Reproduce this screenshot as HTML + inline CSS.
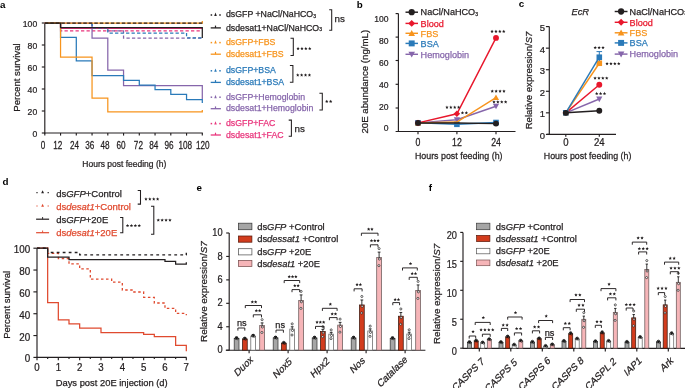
<!DOCTYPE html>
<html><head><meta charset="utf-8"><style>
html,body{margin:0;padding:0;background:#fff;}
body{width:685px;height:388px;overflow:hidden;}
svg{display:block;font-family:"Liberation Sans", sans-serif;will-change:transform;}
</style></head><body>
<svg width="685" height="388" viewBox="0 0 685 388" font-family='"Liberation Sans", sans-serif'>
<rect width="685" height="388" fill="#fff"/>
<text x="0.00" y="7.60" font-size="9.8" fill="#000" stroke="#000" stroke-width="0" text-anchor="start" font-weight="bold" font-style="normal" >a</text>
<line x1="44.80" y1="23.00" x2="44.80" y2="133.50" stroke="#231f20" stroke-width="1.15" />
<line x1="41.80" y1="23.00" x2="44.80" y2="23.00" stroke="#231f20" stroke-width="1.15" />
<text x="0" y="0" font-size="9.8" fill="#231f20" stroke="#231f20" stroke-width="0.25" text-anchor="end" font-weight="normal" font-style="normal" transform="translate(37.20 27.12) scale(0.88 1)" >100</text>
<line x1="41.80" y1="45.00" x2="44.80" y2="45.00" stroke="#231f20" stroke-width="1.15" />
<text x="0" y="0" font-size="9.8" fill="#231f20" stroke="#231f20" stroke-width="0.25" text-anchor="end" font-weight="normal" font-style="normal" transform="translate(37.20 49.12) scale(0.88 1)" >80</text>
<line x1="41.80" y1="67.00" x2="44.80" y2="67.00" stroke="#231f20" stroke-width="1.15" />
<text x="0" y="0" font-size="9.8" fill="#231f20" stroke="#231f20" stroke-width="0.25" text-anchor="end" font-weight="normal" font-style="normal" transform="translate(37.20 71.12) scale(0.88 1)" >60</text>
<line x1="41.80" y1="89.00" x2="44.80" y2="89.00" stroke="#231f20" stroke-width="1.15" />
<text x="0" y="0" font-size="9.8" fill="#231f20" stroke="#231f20" stroke-width="0.25" text-anchor="end" font-weight="normal" font-style="normal" transform="translate(37.20 93.12) scale(0.88 1)" >40</text>
<line x1="41.80" y1="111.00" x2="44.80" y2="111.00" stroke="#231f20" stroke-width="1.15" />
<text x="0" y="0" font-size="9.8" fill="#231f20" stroke="#231f20" stroke-width="0.25" text-anchor="end" font-weight="normal" font-style="normal" transform="translate(37.20 115.12) scale(0.88 1)" >20</text>
<line x1="41.80" y1="133.00" x2="44.80" y2="133.00" stroke="#231f20" stroke-width="1.15" />
<text x="0" y="0" font-size="9.8" fill="#231f20" stroke="#231f20" stroke-width="0.25" text-anchor="end" font-weight="normal" font-style="normal" transform="translate(37.20 137.12) scale(0.88 1)" >0</text>
<line x1="44.30" y1="133.00" x2="202.80" y2="133.00" stroke="#231f20" stroke-width="1.15" />
<line x1="44.80" y1="133.00" x2="44.80" y2="135.60" stroke="#231f20" stroke-width="1.15" />
<text x="0" y="0" font-size="10.0" fill="#231f20" stroke="#231f20" stroke-width="0.25" text-anchor="middle" font-weight="normal" font-style="normal" transform="translate(42.90 149.14) scale(0.82 1)" >0</text>
<line x1="60.55" y1="133.00" x2="60.55" y2="135.60" stroke="#231f20" stroke-width="1.15" />
<text x="0" y="0" font-size="10.0" fill="#231f20" stroke="#231f20" stroke-width="0.25" text-anchor="middle" font-weight="normal" font-style="normal" transform="translate(57.80 149.14) scale(0.82 1)" >12</text>
<line x1="76.30" y1="133.00" x2="76.30" y2="135.60" stroke="#231f20" stroke-width="1.15" />
<text x="0" y="0" font-size="10.0" fill="#231f20" stroke="#231f20" stroke-width="0.25" text-anchor="middle" font-weight="normal" font-style="normal" transform="translate(74.50 149.14) scale(0.82 1)" >24</text>
<line x1="92.05" y1="133.00" x2="92.05" y2="135.60" stroke="#231f20" stroke-width="1.15" />
<text x="0" y="0" font-size="10.0" fill="#231f20" stroke="#231f20" stroke-width="0.25" text-anchor="middle" font-weight="normal" font-style="normal" transform="translate(89.70 149.14) scale(0.82 1)" >36</text>
<line x1="107.80" y1="133.00" x2="107.80" y2="135.60" stroke="#231f20" stroke-width="1.15" />
<text x="0" y="0" font-size="10.0" fill="#231f20" stroke="#231f20" stroke-width="0.25" text-anchor="middle" font-weight="normal" font-style="normal" transform="translate(105.10 149.14) scale(0.82 1)" >48</text>
<line x1="123.55" y1="133.00" x2="123.55" y2="135.60" stroke="#231f20" stroke-width="1.15" />
<text x="0" y="0" font-size="10.0" fill="#231f20" stroke="#231f20" stroke-width="0.25" text-anchor="middle" font-weight="normal" font-style="normal" transform="translate(121.00 149.14) scale(0.82 1)" >60</text>
<line x1="139.30" y1="133.00" x2="139.30" y2="135.60" stroke="#231f20" stroke-width="1.15" />
<text x="0" y="0" font-size="10.0" fill="#231f20" stroke="#231f20" stroke-width="0.25" text-anchor="middle" font-weight="normal" font-style="normal" transform="translate(138.40 149.14) scale(0.82 1)" >72</text>
<line x1="155.05" y1="133.00" x2="155.05" y2="135.60" stroke="#231f20" stroke-width="1.15" />
<text x="0" y="0" font-size="10.0" fill="#231f20" stroke="#231f20" stroke-width="0.25" text-anchor="middle" font-weight="normal" font-style="normal" transform="translate(153.70 149.14) scale(0.82 1)" >84</text>
<line x1="170.80" y1="133.00" x2="170.80" y2="135.60" stroke="#231f20" stroke-width="1.15" />
<text x="0" y="0" font-size="10.0" fill="#231f20" stroke="#231f20" stroke-width="0.25" text-anchor="middle" font-weight="normal" font-style="normal" transform="translate(169.00 149.14) scale(0.82 1)" >96</text>
<line x1="186.55" y1="133.00" x2="186.55" y2="135.60" stroke="#231f20" stroke-width="1.15" />
<text x="0" y="0" font-size="10.0" fill="#231f20" stroke="#231f20" stroke-width="0.25" text-anchor="middle" font-weight="normal" font-style="normal" transform="translate(185.20 149.14) scale(0.82 1)" >108</text>
<line x1="202.30" y1="133.00" x2="202.30" y2="135.60" stroke="#231f20" stroke-width="1.15" />
<text x="0" y="0" font-size="10.0" fill="#231f20" stroke="#231f20" stroke-width="0.25" text-anchor="middle" font-weight="normal" font-style="normal" transform="translate(202.80 149.14) scale(0.82 1)" >120</text>
<text x="0" y="0" font-size="8.9" fill="#231f20" stroke="#231f20" stroke-width="0.25" text-anchor="middle" font-weight="normal" font-style="normal" transform="translate(124.30 166.90) scale(0.955 1)" >Hours post feeding (h)</text>
<text x="0" y="0" font-size="9.65" fill="#231f20" stroke="#231f20" stroke-width="0.25" text-anchor="middle" transform="translate(16.90 77.50) rotate(-90)" dy="3.47">Percent survival</text>
<polyline points="44.80,23.00 60.55,23.00 60.55,30.80 202.30,30.80" fill="none" stroke="#e9357c" stroke-width="1.25" stroke-dasharray="3.3,2.2" />
<polyline points="44.80,23.00 60.55,23.00 60.55,28.40 202.30,28.40" fill="none" stroke="#e9357c" stroke-width="1.25" />
<polyline points="92.05,23.00 92.05,27.50 107.80,27.50 107.80,30.80 123.55,30.80 123.55,38.10 202.30,38.10" fill="none" stroke="#8666ab" stroke-width="1.25" stroke-dasharray="3.3,2.2" />
<polyline points="44.80,23.00 92.05,23.00 92.05,38.10 107.80,38.10 107.80,70.00 123.55,70.00 123.55,85.50 202.30,85.50 202.30,99.00" fill="none" stroke="#8666ab" stroke-width="1.25" />
<polyline points="92.05,23.00 92.05,27.80 107.80,27.80 107.80,33.00 186.55,33.00 186.55,37.80 202.30,37.80" fill="none" stroke="#2a7ab9" stroke-width="1.25" stroke-dasharray="3.3,2.2" />
<polyline points="44.80,23.00 60.55,23.00 60.55,37.30 76.30,37.30 76.30,60.90 92.05,60.90 92.05,75.50 123.55,75.50 123.55,80.40 139.30,80.40 139.30,85.00 155.05,85.00 155.05,89.60 170.80,89.60 170.80,94.40 186.55,94.40 186.55,99.60 202.30,99.60 202.30,103.00" fill="none" stroke="#2a7ab9" stroke-width="1.25" />
<polyline points="44.80,23.00 202.30,23.00 202.30,21.00" fill="none" stroke="#f7941d" stroke-width="1.25" />
<polyline points="44.80,23.00 60.55,23.00 60.55,57.10 92.05,57.10 92.05,98.20 107.80,98.20 107.80,111.80 202.30,111.80 202.30,110.00" fill="none" stroke="#f7941d" stroke-width="1.25" />
<polyline points="44.80,23.00 202.30,23.00" fill="none" stroke="#231f20" stroke-width="1.25" stroke-dasharray="3.5,2.0" />
<polyline points="44.80,23.00 60.55,23.00 60.55,27.50 202.30,27.50 202.30,38.00" fill="none" stroke="#231f20" stroke-width="1.25" />
<rect x="210.65" y="14.25" width="1.50" height="1.50" fill="#231f20" stroke="none" stroke-width="0.6"/>
<rect x="219.25" y="14.25" width="1.50" height="1.50" fill="#231f20" stroke="none" stroke-width="0.6"/>
<polygon points="214.20,16.00 216.80,16.00 215.50,12.60" fill="#231f20"/>
<text x="226.00" y="17.30" font-size="8.75" fill="#231f20" stroke="#231f20" stroke-width="0.25" text-anchor="start" font-weight="normal" font-style="normal" >dsGFP +NaCl/NaHCO<tspan font-size="5" dy="0.4">3</tspan></text>
<line x1="210.70" y1="27.90" x2="220.90" y2="27.90" stroke="#231f20" stroke-width="1.3" />
<line x1="215.50" y1="25.60" x2="215.50" y2="27.90" stroke="#231f20" stroke-width="1.2" />
<text x="226.00" y="30.50" font-size="8.75" fill="#231f20" stroke="#231f20" stroke-width="0.25" text-anchor="start" font-weight="normal" font-style="normal" >dsdesat1+NaCl/NaHCO<tspan font-size="5" dy="0.4">3</tspan></text>
<rect x="210.65" y="41.85" width="1.50" height="1.50" fill="#f7941d" stroke="none" stroke-width="0.6"/>
<rect x="219.25" y="41.85" width="1.50" height="1.50" fill="#f7941d" stroke="none" stroke-width="0.6"/>
<polygon points="214.20,43.60 216.80,43.60 215.50,40.20" fill="#f7941d"/>
<text x="226.00" y="44.90" font-size="8.75" fill="#f7941d" stroke="#f7941d" stroke-width="0.25" text-anchor="start" font-weight="normal" font-style="normal" >dsGFP+FBS</text>
<line x1="210.70" y1="54.20" x2="220.90" y2="54.20" stroke="#f7941d" stroke-width="1.3" />
<line x1="215.50" y1="51.90" x2="215.50" y2="54.20" stroke="#f7941d" stroke-width="1.2" />
<text x="226.00" y="56.80" font-size="8.75" fill="#f7941d" stroke="#f7941d" stroke-width="0.25" text-anchor="start" font-weight="normal" font-style="normal" >dsdesat1+FBS</text>
<rect x="210.65" y="70.05" width="1.50" height="1.50" fill="#2a7ab9" stroke="none" stroke-width="0.6"/>
<rect x="219.25" y="70.05" width="1.50" height="1.50" fill="#2a7ab9" stroke="none" stroke-width="0.6"/>
<polygon points="214.20,71.80 216.80,71.80 215.50,68.40" fill="#2a7ab9"/>
<text x="226.00" y="73.10" font-size="8.75" fill="#2a7ab9" stroke="#2a7ab9" stroke-width="0.25" text-anchor="start" font-weight="normal" font-style="normal" >dsGFP+BSA</text>
<line x1="210.70" y1="82.40" x2="220.90" y2="82.40" stroke="#2a7ab9" stroke-width="1.3" />
<line x1="215.50" y1="80.10" x2="215.50" y2="82.40" stroke="#2a7ab9" stroke-width="1.2" />
<text x="226.00" y="85.00" font-size="8.75" fill="#2a7ab9" stroke="#2a7ab9" stroke-width="0.25" text-anchor="start" font-weight="normal" font-style="normal" >dsdesat1+BSA</text>
<rect x="210.65" y="96.45" width="1.50" height="1.50" fill="#8666ab" stroke="none" stroke-width="0.6"/>
<rect x="219.25" y="96.45" width="1.50" height="1.50" fill="#8666ab" stroke="none" stroke-width="0.6"/>
<polygon points="214.20,98.20 216.80,98.20 215.50,94.80" fill="#8666ab"/>
<text x="226.00" y="99.50" font-size="8.75" fill="#8666ab" stroke="#8666ab" stroke-width="0.25" text-anchor="start" font-weight="normal" font-style="normal" >dsGFP+Hemoglobin</text>
<line x1="210.70" y1="108.70" x2="220.90" y2="108.70" stroke="#8666ab" stroke-width="1.3" />
<line x1="215.50" y1="106.40" x2="215.50" y2="108.70" stroke="#8666ab" stroke-width="1.2" />
<text x="226.00" y="111.30" font-size="8.75" fill="#8666ab" stroke="#8666ab" stroke-width="0.25" text-anchor="start" font-weight="normal" font-style="normal" >dsdesat1+Hemoglobin</text>
<rect x="210.65" y="122.85" width="1.50" height="1.50" fill="#e9357c" stroke="none" stroke-width="0.6"/>
<rect x="219.25" y="122.85" width="1.50" height="1.50" fill="#e9357c" stroke="none" stroke-width="0.6"/>
<polygon points="214.20,124.60 216.80,124.60 215.50,121.20" fill="#e9357c"/>
<text x="226.00" y="125.90" font-size="8.75" fill="#e9357c" stroke="#e9357c" stroke-width="0.25" text-anchor="start" font-weight="normal" font-style="normal" >dsGFP+FAC</text>
<line x1="210.70" y1="135.00" x2="220.90" y2="135.00" stroke="#e9357c" stroke-width="1.3" />
<line x1="215.50" y1="132.70" x2="215.50" y2="135.00" stroke="#e9357c" stroke-width="1.2" />
<text x="226.00" y="137.60" font-size="8.75" fill="#e9357c" stroke="#e9357c" stroke-width="0.25" text-anchor="start" font-weight="normal" font-style="normal" >dsdesat1+FAC</text>
<polyline points="329.20,9.80 331.70,9.80 331.70,30.20 329.20,30.20" fill="none" stroke="#231f20" stroke-width="1.05" />
<text x="334.60" y="21.70" font-size="9.8" fill="#231f20" stroke="#231f20" stroke-width="0.25" text-anchor="start" font-weight="normal" font-style="normal" >ns</text>
<polyline points="290.50,38.30 293.30,38.30 293.30,55.50 290.50,55.50" fill="none" stroke="#231f20" stroke-width="1.05" />
<polygon points="298.05,46.81 298.54,47.88 299.71,48.02 298.85,48.82 299.08,49.98 298.05,49.40 297.02,49.98 297.25,48.82 296.39,48.02 297.56,47.88" fill="#231f20"/>
<polygon points="301.95,46.81 302.44,47.88 303.61,48.02 302.75,48.82 302.98,49.98 301.95,49.40 300.92,49.98 301.15,48.82 300.29,48.02 301.46,47.88" fill="#231f20"/>
<polygon points="305.85,46.81 306.34,47.88 307.51,48.02 306.65,48.82 306.88,49.98 305.85,49.40 304.82,49.98 305.05,48.82 304.19,48.02 305.36,47.88" fill="#231f20"/>
<polygon points="309.75,46.81 310.24,47.88 311.41,48.02 310.55,48.82 310.78,49.98 309.75,49.40 308.72,49.98 308.95,48.82 308.09,48.02 309.26,47.88" fill="#231f20"/>
<polyline points="289.90,65.50 292.90,65.50 292.90,82.30 289.90,82.30" fill="none" stroke="#231f20" stroke-width="1.05" />
<polygon points="297.75,73.31 298.24,74.38 299.41,74.52 298.55,75.32 298.78,76.48 297.75,75.90 296.72,76.48 296.95,75.32 296.09,74.52 297.26,74.38" fill="#231f20"/>
<polygon points="301.65,73.31 302.14,74.38 303.31,74.52 302.45,75.32 302.68,76.48 301.65,75.90 300.62,76.48 300.85,75.32 299.99,74.52 301.16,74.38" fill="#231f20"/>
<polygon points="305.55,73.31 306.04,74.38 307.21,74.52 306.35,75.32 306.58,76.48 305.55,75.90 304.52,76.48 304.75,75.32 303.89,74.52 305.06,74.38" fill="#231f20"/>
<polygon points="309.45,73.31 309.94,74.38 311.11,74.52 310.25,75.32 310.48,76.48 309.45,75.90 308.42,76.48 308.65,75.32 307.79,74.52 308.96,74.38" fill="#231f20"/>
<polyline points="319.40,93.30 322.30,93.30 322.30,110.00 319.40,110.00" fill="none" stroke="#231f20" stroke-width="1.05" />
<polygon points="326.75,99.71 327.24,100.78 328.41,100.92 327.55,101.72 327.78,102.88 326.75,102.30 325.72,102.88 325.95,101.72 325.09,100.92 326.26,100.78" fill="#231f20"/>
<polygon points="330.65,99.71 331.14,100.78 332.31,100.92 331.45,101.72 331.68,102.88 330.65,102.30 329.62,102.88 329.85,101.72 328.99,100.92 330.16,100.78" fill="#231f20"/>
<polyline points="288.70,120.10 291.40,120.10 291.40,136.30 288.70,136.30" fill="none" stroke="#231f20" stroke-width="1.05" />
<text x="294.60" y="131.60" font-size="9.8" fill="#231f20" stroke="#231f20" stroke-width="0.25" text-anchor="start" font-weight="normal" font-style="normal" >ns</text>
<text x="356.80" y="7.60" font-size="9.8" fill="#000" stroke="#000" stroke-width="0" text-anchor="start" font-weight="bold" font-style="normal" >b</text>
<line x1="398.40" y1="13.60" x2="398.40" y2="131.80" stroke="#231f20" stroke-width="1.15" />
<line x1="395.60" y1="13.60" x2="398.40" y2="13.60" stroke="#231f20" stroke-width="1.15" />
<text x="0" y="0" font-size="9.5" fill="#231f20" stroke="#231f20" stroke-width="0.25" text-anchor="end" font-weight="normal" font-style="normal" transform="translate(388.60 21.86) scale(0.9 1)" >100</text>
<line x1="395.60" y1="37.10" x2="398.40" y2="37.10" stroke="#231f20" stroke-width="1.15" />
<text x="0" y="0" font-size="9.5" fill="#231f20" stroke="#231f20" stroke-width="0.25" text-anchor="end" font-weight="normal" font-style="normal" transform="translate(388.60 44.36) scale(0.9 1)" >80</text>
<line x1="395.60" y1="60.50" x2="398.40" y2="60.50" stroke="#231f20" stroke-width="1.15" />
<text x="0" y="0" font-size="9.5" fill="#231f20" stroke="#231f20" stroke-width="0.25" text-anchor="end" font-weight="normal" font-style="normal" transform="translate(388.60 66.46) scale(0.9 1)" >60</text>
<line x1="395.60" y1="84.30" x2="398.40" y2="84.30" stroke="#231f20" stroke-width="1.15" />
<text x="0" y="0" font-size="9.5" fill="#231f20" stroke="#231f20" stroke-width="0.25" text-anchor="end" font-weight="normal" font-style="normal" transform="translate(388.60 87.66) scale(0.9 1)" >40</text>
<line x1="395.60" y1="108.00" x2="398.40" y2="108.00" stroke="#231f20" stroke-width="1.15" />
<text x="0" y="0" font-size="9.5" fill="#231f20" stroke="#231f20" stroke-width="0.25" text-anchor="end" font-weight="normal" font-style="normal" transform="translate(388.60 109.56) scale(0.9 1)" >20</text>
<text x="0" y="0" font-size="9.5" fill="#231f20" stroke="#231f20" stroke-width="0.25" text-anchor="end" font-weight="normal" font-style="normal" transform="translate(388.60 131.46) scale(0.9 1)" >0</text>
<line x1="395.60" y1="131.50" x2="515.50" y2="131.50" stroke="#231f20" stroke-width="1.15" />
<line x1="418.00" y1="131.50" x2="418.00" y2="134.30" stroke="#231f20" stroke-width="1.15" />
<text x="0" y="0" font-size="10.2" fill="#231f20" stroke="#231f20" stroke-width="0.25" text-anchor="middle" font-weight="normal" font-style="normal" transform="translate(418.00 145.61) scale(0.86 1)" >0</text>
<line x1="456.90" y1="131.50" x2="456.90" y2="134.30" stroke="#231f20" stroke-width="1.15" />
<text x="0" y="0" font-size="10.2" fill="#231f20" stroke="#231f20" stroke-width="0.25" text-anchor="middle" font-weight="normal" font-style="normal" transform="translate(456.90 145.61) scale(0.86 1)" >12</text>
<line x1="496.00" y1="131.50" x2="496.00" y2="134.30" stroke="#231f20" stroke-width="1.15" />
<text x="0" y="0" font-size="10.2" fill="#231f20" stroke="#231f20" stroke-width="0.25" text-anchor="middle" font-weight="normal" font-style="normal" transform="translate(496.00 145.61) scale(0.86 1)" >24</text>
<text x="0" y="0" font-size="9.0" fill="#231f20" stroke="#231f20" stroke-width="0.25" text-anchor="middle" font-weight="normal" font-style="normal" transform="translate(458.70 159.00) scale(0.985 1)" >Hours post feeding (h)</text>
<text x="0" y="0" font-size="9.67" fill="#231f20" stroke="#231f20" stroke-width="0.25" text-anchor="middle" transform="translate(364.40 81.70) rotate(-90)" dy="3.48">20E abundance (ng/mL)</text>
<polyline points="418.00,122.90 456.90,124.30 496.00,122.50" fill="none" stroke="#2a7ab9" stroke-width="1.45" />
<rect x="415.21" y="120.11" width="5.58" height="5.58" fill="#2a7ab9" stroke="none" stroke-width="0.6"/>
<rect x="454.11" y="121.51" width="5.58" height="5.58" fill="#2a7ab9" stroke="none" stroke-width="0.6"/>
<rect x="493.21" y="119.71" width="5.58" height="5.58" fill="#2a7ab9" stroke="none" stroke-width="0.6"/>
<polyline points="418.00,122.90 456.90,119.80 496.00,106.20" fill="none" stroke="#8666ab" stroke-width="1.45" />
<polygon points="414.9,120.42 421.1,120.42 418,126.0" fill="#8666ab"/>
<polygon points="453.79999999999995,117.32 460.0,117.32 456.9,122.89999999999999" fill="#8666ab"/>
<polygon points="492.9,103.72 499.1,103.72 496,109.3" fill="#8666ab"/>
<polyline points="418.00,122.90 456.90,122.00 496.00,97.60" fill="none" stroke="#f7941d" stroke-width="1.45" />
<polygon points="414.9,125.38000000000001 421.1,125.38000000000001 418,119.80000000000001" fill="#f7941d"/>
<polygon points="492.9,100.08 499.1,100.08 496,94.5" fill="#f7941d"/>
<polyline points="418.00,122.90 456.90,113.80 496.00,37.90" fill="none" stroke="#e8172c" stroke-width="1.45" />
<polygon points="418,119.64500000000001 421.255,122.9 418,126.155 414.745,122.9" fill="#e8172c"/>
<polygon points="456.9,110.545 460.155,113.8 456.9,117.05499999999999 453.645,113.8" fill="#e8172c"/>
<polyline points="418.00,122.90 456.90,123.00 496.00,123.60" fill="none" stroke="#231f20" stroke-width="1.45" />
<circle cx="418.00" cy="122.90" r="2.945" fill="#231f20" stroke="none" stroke-width="0.6"/>
<circle cx="496.00" cy="123.60" r="2.945" fill="#231f20" stroke="none" stroke-width="0.6"/>
<circle cx="496.00" cy="37.90" r="2.945" fill="#e8172c" stroke="none" stroke-width="0.6"/>
<polygon points="446.95,105.61 447.44,106.68 448.61,106.82 447.75,107.62 447.98,108.78 446.95,108.20 445.92,108.78 446.15,107.62 445.29,106.82 446.46,106.68" fill="#231f20"/>
<polygon points="450.85,105.61 451.34,106.68 452.51,106.82 451.65,107.62 451.88,108.78 450.85,108.20 449.82,108.78 450.05,107.62 449.19,106.82 450.36,106.68" fill="#231f20"/>
<polygon points="454.75,105.61 455.24,106.68 456.41,106.82 455.55,107.62 455.78,108.78 454.75,108.20 453.72,108.78 453.95,107.62 453.09,106.82 454.26,106.68" fill="#231f20"/>
<polygon points="458.65,105.61 459.14,106.68 460.31,106.82 459.45,107.62 459.68,108.78 458.65,108.20 457.62,108.78 457.85,107.62 456.99,106.82 458.16,106.68" fill="#231f20"/>
<polygon points="462.45,111.11 462.94,112.18 464.11,112.32 463.25,113.12 463.48,114.28 462.45,113.70 461.42,114.28 461.65,113.12 460.79,112.32 461.96,112.18" fill="#231f20"/>
<polygon points="466.35,111.11 466.84,112.18 468.01,112.32 467.15,113.12 467.38,114.28 466.35,113.70 465.32,114.28 465.55,113.12 464.69,112.32 465.86,112.18" fill="#231f20"/>
<polygon points="492.05,29.71 492.54,30.78 493.71,30.92 492.85,31.72 493.08,32.88 492.05,32.30 491.02,32.88 491.25,31.72 490.39,30.92 491.56,30.78" fill="#231f20"/>
<polygon points="495.95,29.71 496.44,30.78 497.61,30.92 496.75,31.72 496.98,32.88 495.95,32.30 494.92,32.88 495.15,31.72 494.29,30.92 495.46,30.78" fill="#231f20"/>
<polygon points="499.85,29.71 500.34,30.78 501.51,30.92 500.65,31.72 500.88,32.88 499.85,32.30 498.82,32.88 499.05,31.72 498.19,30.92 499.36,30.78" fill="#231f20"/>
<polygon points="503.75,29.71 504.24,30.78 505.41,30.92 504.55,31.72 504.78,32.88 503.75,32.30 502.72,32.88 502.95,31.72 502.09,30.92 503.26,30.78" fill="#231f20"/>
<polygon points="492.25,89.51 492.74,90.58 493.91,90.72 493.05,91.52 493.28,92.68 492.25,92.10 491.22,92.68 491.45,91.52 490.59,90.72 491.76,90.58" fill="#231f20"/>
<polygon points="496.15,89.51 496.64,90.58 497.81,90.72 496.95,91.52 497.18,92.68 496.15,92.10 495.12,92.68 495.35,91.52 494.49,90.72 495.66,90.58" fill="#231f20"/>
<polygon points="500.05,89.51 500.54,90.58 501.71,90.72 500.85,91.52 501.08,92.68 500.05,92.10 499.02,92.68 499.25,91.52 498.39,90.72 499.56,90.58" fill="#231f20"/>
<polygon points="503.95,89.51 504.44,90.58 505.61,90.72 504.75,91.52 504.98,92.68 503.95,92.10 502.92,92.68 503.15,91.52 502.29,90.72 503.46,90.58" fill="#231f20"/>
<polygon points="493.95,100.21 494.44,101.28 495.61,101.42 494.75,102.22 494.98,103.38 493.95,102.80 492.92,103.38 493.15,102.22 492.29,101.42 493.46,101.28" fill="#231f20"/>
<polygon points="497.85,100.21 498.34,101.28 499.51,101.42 498.65,102.22 498.88,103.38 497.85,102.80 496.82,103.38 497.05,102.22 496.19,101.42 497.36,101.28" fill="#231f20"/>
<polygon points="501.75,100.21 502.24,101.28 503.41,101.42 502.55,102.22 502.78,103.38 501.75,102.80 500.72,103.38 500.95,102.22 500.09,101.42 501.26,101.28" fill="#231f20"/>
<polygon points="505.65,100.21 506.14,101.28 507.31,101.42 506.45,102.22 506.68,103.38 505.65,102.80 504.62,103.38 504.85,102.22 503.99,101.42 505.16,101.28" fill="#231f20"/>
<line x1="405.50" y1="12.20" x2="418.00" y2="12.20" stroke="#231f20" stroke-width="1.45" />
<circle cx="411.70" cy="12.20" r="3.135" fill="#231f20" stroke="none" stroke-width="0.6"/>
<text x="420.60" y="15.40" font-size="9.1" fill="#231f20" stroke="#231f20" stroke-width="0.25" text-anchor="start" font-weight="normal" font-style="normal" >NaCl/NaHCO<tspan font-size="5" dy="0.4">3</tspan></text>
<line x1="405.50" y1="23.40" x2="418.00" y2="23.40" stroke="#e8172c" stroke-width="1.45" />
<polygon points="411.7,19.935 415.16499999999996,23.4 411.7,26.865 408.235,23.4" fill="#e8172c"/>
<text x="420.60" y="26.60" font-size="9.1" fill="#e8172c" stroke="#e8172c" stroke-width="0.25" text-anchor="start" font-weight="normal" font-style="normal" >Blood</text>
<line x1="405.50" y1="33.30" x2="418.00" y2="33.30" stroke="#f7941d" stroke-width="1.45" />
<polygon points="408.4,35.94 415.0,35.94 411.7,29.999999999999996" fill="#f7941d"/>
<text x="420.60" y="36.50" font-size="9.1" fill="#f7941d" stroke="#f7941d" stroke-width="0.25" text-anchor="start" font-weight="normal" font-style="normal" >FBS</text>
<line x1="405.50" y1="43.40" x2="418.00" y2="43.40" stroke="#2a7ab9" stroke-width="1.45" />
<rect x="408.73" y="40.43" width="5.94" height="5.94" fill="#2a7ab9" stroke="none" stroke-width="0.6"/>
<text x="420.60" y="46.60" font-size="9.1" fill="#2a7ab9" stroke="#2a7ab9" stroke-width="0.25" text-anchor="start" font-weight="normal" font-style="normal" >BSA</text>
<line x1="405.50" y1="54.30" x2="418.00" y2="54.30" stroke="#8666ab" stroke-width="1.45" />
<polygon points="408.4,51.66 415.0,51.66 411.7,57.599999999999994" fill="#8666ab"/>
<text x="420.60" y="57.50" font-size="9.1" fill="#8666ab" stroke="#8666ab" stroke-width="0.25" text-anchor="start" font-weight="normal" font-style="normal" >Hemoglobin</text>
<text x="518.80" y="7.20" font-size="9.8" fill="#000" stroke="#000" stroke-width="0" text-anchor="start" font-weight="bold" font-style="normal" >c</text>
<text x="571.40" y="15.00" font-size="9.4" fill="#231f20" stroke="#231f20" stroke-width="0.25" text-anchor="start" font-weight="normal" font-style="italic" >EcR</text>
<line x1="549.30" y1="26.60" x2="549.30" y2="134.60" stroke="#231f20" stroke-width="1.15" />
<line x1="545.90" y1="134.40" x2="549.30" y2="134.40" stroke="#231f20" stroke-width="1.15" />
<text x="0" y="0" font-size="9.8" fill="#231f20" stroke="#231f20" stroke-width="0.25" text-anchor="end" font-weight="normal" font-style="normal" transform="translate(545.10 138.92) scale(0.97 1)" >0</text>
<line x1="545.90" y1="112.84" x2="549.30" y2="112.84" stroke="#231f20" stroke-width="1.15" />
<text x="0" y="0" font-size="9.8" fill="#231f20" stroke="#231f20" stroke-width="0.25" text-anchor="end" font-weight="normal" font-style="normal" transform="translate(545.10 117.36) scale(0.97 1)" >1</text>
<line x1="545.90" y1="91.28" x2="549.30" y2="91.28" stroke="#231f20" stroke-width="1.15" />
<text x="0" y="0" font-size="9.8" fill="#231f20" stroke="#231f20" stroke-width="0.25" text-anchor="end" font-weight="normal" font-style="normal" transform="translate(545.10 95.80) scale(0.97 1)" >2</text>
<line x1="545.90" y1="69.72" x2="549.30" y2="69.72" stroke="#231f20" stroke-width="1.15" />
<text x="0" y="0" font-size="9.8" fill="#231f20" stroke="#231f20" stroke-width="0.25" text-anchor="end" font-weight="normal" font-style="normal" transform="translate(545.10 74.24) scale(0.97 1)" >3</text>
<line x1="545.90" y1="48.16" x2="549.30" y2="48.16" stroke="#231f20" stroke-width="1.15" />
<text x="0" y="0" font-size="9.8" fill="#231f20" stroke="#231f20" stroke-width="0.25" text-anchor="end" font-weight="normal" font-style="normal" transform="translate(545.10 52.68) scale(0.97 1)" >4</text>
<line x1="545.90" y1="26.60" x2="549.30" y2="26.60" stroke="#231f20" stroke-width="1.15" />
<text x="0" y="0" font-size="9.8" fill="#231f20" stroke="#231f20" stroke-width="0.25" text-anchor="end" font-weight="normal" font-style="normal" transform="translate(545.10 31.12) scale(0.97 1)" >5</text>
<line x1="546.80" y1="134.40" x2="616.00" y2="134.40" stroke="#231f20" stroke-width="1.15" />
<line x1="565.80" y1="134.40" x2="565.80" y2="136.80" stroke="#231f20" stroke-width="1.15" />
<text x="0" y="0" font-size="10.3" fill="#231f20" stroke="#231f20" stroke-width="0.25" text-anchor="middle" font-weight="normal" font-style="normal" transform="translate(565.80 145.65) scale(0.93 1)" >0</text>
<line x1="599.30" y1="134.40" x2="599.30" y2="136.80" stroke="#231f20" stroke-width="1.15" />
<text x="0" y="0" font-size="10.3" fill="#231f20" stroke="#231f20" stroke-width="0.25" text-anchor="middle" font-weight="normal" font-style="normal" transform="translate(599.30 145.65) scale(0.93 1)" >24</text>
<text x="0" y="0" font-size="9.0" fill="#231f20" stroke="#231f20" stroke-width="0.25" text-anchor="start" font-weight="normal" font-style="normal" transform="translate(543.80 159.00) scale(0.985 1)" >Hours post feeding (h)</text>
<text x="0" y="0" font-size="9.55" fill="#231f20" stroke="#231f20" stroke-width="0.25" text-anchor="middle" transform="translate(528.60 80.50) rotate(-90)" dy="3.44">Relative expression/<tspan font-style="italic">S7</tspan></text>
<polyline points="565.80,112.84 599.30,99.04" fill="none" stroke="#8666ab" stroke-width="1.45" />
<polygon points="562.6999999999999,110.36 568.9,110.36 565.8,115.94" fill="#8666ab"/>
<polygon points="596.1999999999999,96.56160000000001 602.4,96.56160000000001 599.3,102.14160000000001" fill="#8666ab"/>
<polyline points="565.80,112.84 599.30,84.81" fill="none" stroke="#e8172c" stroke-width="1.45" />
<circle cx="565.80" cy="112.84" r="2.945" fill="#e8172c" stroke="none" stroke-width="0.6"/>
<circle cx="599.30" cy="84.81" r="2.945" fill="#e8172c" stroke="none" stroke-width="0.6"/>
<polyline points="565.80,112.84 599.30,63.25" fill="none" stroke="#f7941d" stroke-width="1.45" />
<rect x="563.01" y="110.05" width="5.58" height="5.58" fill="#f7941d" stroke="none" stroke-width="0.6"/>
<rect x="596.51" y="60.46" width="5.58" height="5.58" fill="#f7941d" stroke="none" stroke-width="0.6"/>
<polyline points="565.80,112.84 599.30,57.22" fill="none" stroke="#2a7ab9" stroke-width="1.45" />
<rect x="563.01" y="110.05" width="5.58" height="5.58" fill="#2a7ab9" stroke="none" stroke-width="0.6"/>
<rect x="596.51" y="54.43" width="5.58" height="5.58" fill="#2a7ab9" stroke="none" stroke-width="0.6"/>
<polyline points="565.80,112.84 599.30,110.68" fill="none" stroke="#231f20" stroke-width="1.45" />
<circle cx="565.80" cy="112.84" r="2.945" fill="#231f20" stroke="none" stroke-width="0.6"/>
<circle cx="599.30" cy="110.68" r="2.945" fill="#231f20" stroke="none" stroke-width="0.6"/>
<line x1="599.30" y1="51.60" x2="599.30" y2="61.00" stroke="#2a7ab9" stroke-width="1.0" />
<line x1="596.50" y1="51.60" x2="602.10" y2="51.60" stroke="#2a7ab9" stroke-width="1.0" />
<polygon points="595.20,45.91 595.69,46.98 596.86,47.12 596.00,47.92 596.23,49.08 595.20,48.50 594.17,49.08 594.40,47.92 593.54,47.12 594.71,46.98" fill="#231f20"/>
<polygon points="599.10,45.91 599.59,46.98 600.76,47.12 599.90,47.92 600.13,49.08 599.10,48.50 598.07,49.08 598.30,47.92 597.44,47.12 598.61,46.98" fill="#231f20"/>
<polygon points="603.00,45.91 603.49,46.98 604.66,47.12 603.80,47.92 604.03,49.08 603.00,48.50 601.97,49.08 602.20,47.92 601.34,47.12 602.51,46.98" fill="#231f20"/>
<polygon points="607.05,62.01 607.54,63.08 608.71,63.22 607.85,64.02 608.08,65.18 607.05,64.60 606.02,65.18 606.25,64.02 605.39,63.22 606.56,63.08" fill="#231f20"/>
<polygon points="610.95,62.01 611.44,63.08 612.61,63.22 611.75,64.02 611.98,65.18 610.95,64.60 609.92,65.18 610.15,64.02 609.29,63.22 610.46,63.08" fill="#231f20"/>
<polygon points="614.85,62.01 615.34,63.08 616.51,63.22 615.65,64.02 615.88,65.18 614.85,64.60 613.82,65.18 614.05,64.02 613.19,63.22 614.36,63.08" fill="#231f20"/>
<polygon points="618.75,62.01 619.24,63.08 620.41,63.22 619.55,64.02 619.78,65.18 618.75,64.60 617.72,65.18 617.95,64.02 617.09,63.22 618.26,63.08" fill="#231f20"/>
<polygon points="595.05,76.41 595.54,77.48 596.71,77.62 595.85,78.42 596.08,79.58 595.05,79.00 594.02,79.58 594.25,78.42 593.39,77.62 594.56,77.48" fill="#231f20"/>
<polygon points="598.95,76.41 599.44,77.48 600.61,77.62 599.75,78.42 599.98,79.58 598.95,79.00 597.92,79.58 598.15,78.42 597.29,77.62 598.46,77.48" fill="#231f20"/>
<polygon points="602.85,76.41 603.34,77.48 604.51,77.62 603.65,78.42 603.88,79.58 602.85,79.00 601.82,79.58 602.05,78.42 601.19,77.62 602.36,77.48" fill="#231f20"/>
<polygon points="606.75,76.41 607.24,77.48 608.41,77.62 607.55,78.42 607.78,79.58 606.75,79.00 605.72,79.58 605.95,78.42 605.09,77.62 606.26,77.48" fill="#231f20"/>
<polygon points="596.70,91.81 597.19,92.88 598.36,93.02 597.50,93.82 597.73,94.98 596.70,94.40 595.67,94.98 595.90,93.82 595.04,93.02 596.21,92.88" fill="#231f20"/>
<polygon points="600.60,91.81 601.09,92.88 602.26,93.02 601.40,93.82 601.63,94.98 600.60,94.40 599.57,94.98 599.80,93.82 598.94,93.02 600.11,92.88" fill="#231f20"/>
<polygon points="604.50,91.81 604.99,92.88 606.16,93.02 605.30,93.82 605.53,94.98 604.50,94.40 603.47,94.98 603.70,93.82 602.84,93.02 604.01,92.88" fill="#231f20"/>
<line x1="614.70" y1="11.50" x2="627.50" y2="11.50" stroke="#231f20" stroke-width="1.45" />
<circle cx="621.10" cy="11.50" r="3.135" fill="#231f20" stroke="none" stroke-width="0.6"/>
<text x="629.60" y="14.70" font-size="9.1" fill="#231f20" stroke="#231f20" stroke-width="0.25" text-anchor="start" font-weight="normal" font-style="normal" >NaCl/NaHCO<tspan font-size="5" dy="0.4">3</tspan></text>
<line x1="614.70" y1="22.30" x2="627.50" y2="22.30" stroke="#e8172c" stroke-width="1.45" />
<polygon points="621.1,18.835 624.565,22.3 621.1,25.765 617.635,22.3" fill="#e8172c"/>
<text x="629.60" y="25.50" font-size="9.1" fill="#e8172c" stroke="#e8172c" stroke-width="0.25" text-anchor="start" font-weight="normal" font-style="normal" >Blood</text>
<line x1="614.70" y1="32.80" x2="627.50" y2="32.80" stroke="#f7941d" stroke-width="1.45" />
<polygon points="617.8000000000001,35.44 624.4,35.44 621.1,29.499999999999996" fill="#f7941d"/>
<text x="629.60" y="36.00" font-size="9.1" fill="#f7941d" stroke="#f7941d" stroke-width="0.25" text-anchor="start" font-weight="normal" font-style="normal" >FBS</text>
<line x1="614.70" y1="42.90" x2="627.50" y2="42.90" stroke="#2a7ab9" stroke-width="1.45" />
<rect x="618.13" y="39.93" width="5.94" height="5.94" fill="#2a7ab9" stroke="none" stroke-width="0.6"/>
<text x="629.60" y="46.10" font-size="9.1" fill="#2a7ab9" stroke="#2a7ab9" stroke-width="0.25" text-anchor="start" font-weight="normal" font-style="normal" >BSA</text>
<line x1="614.70" y1="54.10" x2="627.50" y2="54.10" stroke="#8666ab" stroke-width="1.45" />
<polygon points="617.8000000000001,51.46 624.4,51.46 621.1,57.4" fill="#8666ab"/>
<text x="629.60" y="57.30" font-size="9.1" fill="#8666ab" stroke="#8666ab" stroke-width="0.25" text-anchor="start" font-weight="normal" font-style="normal" >Hemoglobin</text>
<text x="2.60" y="185.40" font-size="9.8" fill="#000" stroke="#000" stroke-width="0" text-anchor="start" font-weight="bold" font-style="normal" >d</text>
<line x1="36.40" y1="192.60" x2="37.60" y2="192.60" stroke="#231f20" stroke-width="1.2" />
<line x1="47.60" y1="192.60" x2="48.80" y2="192.60" stroke="#231f20" stroke-width="1.2" />
<polygon points="41.20,193.30 44.00,193.30 42.60,190.30" fill="#231f20"/>
<text x="56.20" y="196.50" font-size="9.5" fill="#231f20" stroke="#231f20" stroke-width="0.25" text-anchor="start" font-weight="normal" font-style="normal" >ds<tspan font-style="italic">GFP</tspan>+Control</text>
<line x1="36.40" y1="206.00" x2="37.60" y2="206.00" stroke="#e04a2f" stroke-width="1.2" />
<line x1="47.60" y1="206.00" x2="48.80" y2="206.00" stroke="#e04a2f" stroke-width="1.2" />
<polygon points="41.20,206.70 44.00,206.70 42.60,203.70" fill="#e04a2f"/>
<text x="56.20" y="209.80" font-size="9.5" fill="#e04a2f" stroke="#e04a2f" stroke-width="0.25" text-anchor="start" font-weight="normal" font-style="normal" >ds<tspan font-style="italic">desat1</tspan>+Control</text>
<line x1="36.10" y1="219.20" x2="49.10" y2="219.20" stroke="#231f20" stroke-width="1.2" />
<line x1="42.60" y1="217.00" x2="42.60" y2="219.20" stroke="#231f20" stroke-width="0.9" />
<text x="56.20" y="223.10" font-size="9.5" fill="#231f20" stroke="#231f20" stroke-width="0.25" text-anchor="start" font-weight="normal" font-style="normal" >ds<tspan font-style="italic">GFP</tspan>+20E</text>
<line x1="36.10" y1="232.70" x2="49.10" y2="232.70" stroke="#e04a2f" stroke-width="1.2" />
<line x1="42.60" y1="230.50" x2="42.60" y2="232.70" stroke="#e04a2f" stroke-width="0.9" />
<text x="56.20" y="236.40" font-size="9.5" fill="#e04a2f" stroke="#e04a2f" stroke-width="0.25" text-anchor="start" font-weight="normal" font-style="normal" >ds<tspan font-style="italic">desat1</tspan>+20E</text>
<polyline points="137.70,190.50 140.50,190.50 140.50,204.10 137.70,204.10" fill="none" stroke="#231f20" stroke-width="1.05" />
<polygon points="145.95,197.31 146.44,198.38 147.61,198.52 146.75,199.32 146.98,200.48 145.95,199.90 144.92,200.48 145.15,199.32 144.29,198.52 145.46,198.38" fill="#231f20"/>
<polygon points="149.85,197.31 150.34,198.38 151.51,198.52 150.65,199.32 150.88,200.48 149.85,199.90 148.82,200.48 149.05,199.32 148.19,198.52 149.36,198.38" fill="#231f20"/>
<polygon points="153.75,197.31 154.24,198.38 155.41,198.52 154.55,199.32 154.78,200.48 153.75,199.90 152.72,200.48 152.95,199.32 152.09,198.52 153.26,198.38" fill="#231f20"/>
<polygon points="157.65,197.31 158.14,198.38 159.31,198.52 158.45,199.32 158.68,200.48 157.65,199.90 156.62,200.48 156.85,199.32 155.99,198.52 157.16,198.38" fill="#231f20"/>
<polyline points="120.10,217.50 122.80,217.50 122.80,232.70 120.10,232.70" fill="none" stroke="#231f20" stroke-width="1.05" />
<polygon points="127.55,223.91 128.04,224.98 129.21,225.12 128.35,225.92 128.58,227.08 127.55,226.50 126.52,227.08 126.75,225.92 125.89,225.12 127.06,224.98" fill="#231f20"/>
<polygon points="131.45,223.91 131.94,224.98 133.11,225.12 132.25,225.92 132.48,227.08 131.45,226.50 130.42,227.08 130.65,225.92 129.79,225.12 130.96,224.98" fill="#231f20"/>
<polygon points="135.35,223.91 135.84,224.98 137.01,225.12 136.15,225.92 136.38,227.08 135.35,226.50 134.32,227.08 134.55,225.92 133.69,225.12 134.86,224.98" fill="#231f20"/>
<polygon points="139.25,223.91 139.74,224.98 140.91,225.12 140.05,225.92 140.28,227.08 139.25,226.50 138.22,227.08 138.45,225.92 137.59,225.12 138.76,224.98" fill="#231f20"/>
<polyline points="151.00,206.30 153.80,206.30 153.80,234.20 151.00,234.20" fill="none" stroke="#231f20" stroke-width="1.05" />
<polygon points="158.25,218.41 158.74,219.48 159.91,219.62 159.05,220.42 159.28,221.58 158.25,221.00 157.22,221.58 157.45,220.42 156.59,219.62 157.76,219.48" fill="#231f20"/>
<polygon points="162.15,218.41 162.64,219.48 163.81,219.62 162.95,220.42 163.18,221.58 162.15,221.00 161.12,221.58 161.35,220.42 160.49,219.62 161.66,219.48" fill="#231f20"/>
<polygon points="166.05,218.41 166.54,219.48 167.71,219.62 166.85,220.42 167.08,221.58 166.05,221.00 165.02,221.58 165.25,220.42 164.39,219.62 165.56,219.48" fill="#231f20"/>
<polygon points="169.95,218.41 170.44,219.48 171.61,219.62 170.75,220.42 170.98,221.58 169.95,221.00 168.92,221.58 169.15,220.42 168.29,219.62 169.46,219.48" fill="#231f20"/>
<line x1="37.00" y1="248.20" x2="37.00" y2="357.60" stroke="#231f20" stroke-width="1.15" />
<line x1="33.40" y1="248.20" x2="37.00" y2="248.20" stroke="#231f20" stroke-width="1.15" />
<text x="0" y="0" font-size="10.6" fill="#231f20" stroke="#231f20" stroke-width="0.25" text-anchor="end" font-weight="normal" font-style="normal" transform="translate(30.30 253.20) scale(0.93 1)" >100</text>
<line x1="33.40" y1="270.04" x2="37.00" y2="270.04" stroke="#231f20" stroke-width="1.15" />
<text x="0" y="0" font-size="10.6" fill="#231f20" stroke="#231f20" stroke-width="0.25" text-anchor="end" font-weight="normal" font-style="normal" transform="translate(30.30 275.04) scale(0.93 1)" >80</text>
<line x1="33.40" y1="291.88" x2="37.00" y2="291.88" stroke="#231f20" stroke-width="1.15" />
<text x="0" y="0" font-size="10.6" fill="#231f20" stroke="#231f20" stroke-width="0.25" text-anchor="end" font-weight="normal" font-style="normal" transform="translate(30.30 296.88) scale(0.93 1)" >60</text>
<line x1="33.40" y1="313.72" x2="37.00" y2="313.72" stroke="#231f20" stroke-width="1.15" />
<text x="0" y="0" font-size="10.6" fill="#231f20" stroke="#231f20" stroke-width="0.25" text-anchor="end" font-weight="normal" font-style="normal" transform="translate(30.30 318.72) scale(0.93 1)" >40</text>
<line x1="33.40" y1="335.56" x2="37.00" y2="335.56" stroke="#231f20" stroke-width="1.15" />
<text x="0" y="0" font-size="10.6" fill="#231f20" stroke="#231f20" stroke-width="0.25" text-anchor="end" font-weight="normal" font-style="normal" transform="translate(30.30 340.56) scale(0.93 1)" >20</text>
<line x1="33.40" y1="357.40" x2="37.00" y2="357.40" stroke="#231f20" stroke-width="1.15" />
<text x="0" y="0" font-size="10.6" fill="#231f20" stroke="#231f20" stroke-width="0.25" text-anchor="end" font-weight="normal" font-style="normal" transform="translate(30.30 362.40) scale(0.93 1)" >0</text>
<line x1="36.50" y1="357.40" x2="186.60" y2="357.40" stroke="#231f20" stroke-width="1.15" />
<line x1="37.00" y1="357.40" x2="37.00" y2="360.20" stroke="#231f20" stroke-width="1.15" />
<text x="0" y="0" font-size="10.4" fill="#231f20" stroke="#231f20" stroke-width="0.25" text-anchor="middle" font-weight="normal" font-style="normal" transform="translate(37.00 370.98) scale(0.93 1)" >0</text>
<line x1="47.66" y1="357.40" x2="47.66" y2="359.00" stroke="#231f20" stroke-width="1.15" />
<line x1="58.33" y1="357.40" x2="58.33" y2="360.20" stroke="#231f20" stroke-width="1.15" />
<text x="0" y="0" font-size="10.4" fill="#231f20" stroke="#231f20" stroke-width="0.25" text-anchor="middle" font-weight="normal" font-style="normal" transform="translate(58.33 370.98) scale(0.93 1)" >1</text>
<line x1="69.00" y1="357.40" x2="69.00" y2="359.00" stroke="#231f20" stroke-width="1.15" />
<line x1="79.66" y1="357.40" x2="79.66" y2="360.20" stroke="#231f20" stroke-width="1.15" />
<text x="0" y="0" font-size="10.4" fill="#231f20" stroke="#231f20" stroke-width="0.25" text-anchor="middle" font-weight="normal" font-style="normal" transform="translate(79.66 370.98) scale(0.93 1)" >2</text>
<line x1="90.32" y1="357.40" x2="90.32" y2="359.00" stroke="#231f20" stroke-width="1.15" />
<line x1="100.99" y1="357.40" x2="100.99" y2="360.20" stroke="#231f20" stroke-width="1.15" />
<text x="0" y="0" font-size="10.4" fill="#231f20" stroke="#231f20" stroke-width="0.25" text-anchor="middle" font-weight="normal" font-style="normal" transform="translate(100.99 370.98) scale(0.93 1)" >3</text>
<line x1="111.66" y1="357.40" x2="111.66" y2="359.00" stroke="#231f20" stroke-width="1.15" />
<line x1="122.32" y1="357.40" x2="122.32" y2="360.20" stroke="#231f20" stroke-width="1.15" />
<text x="0" y="0" font-size="10.4" fill="#231f20" stroke="#231f20" stroke-width="0.25" text-anchor="middle" font-weight="normal" font-style="normal" transform="translate(122.32 370.98) scale(0.93 1)" >4</text>
<line x1="132.98" y1="357.40" x2="132.98" y2="359.00" stroke="#231f20" stroke-width="1.15" />
<line x1="143.65" y1="357.40" x2="143.65" y2="360.20" stroke="#231f20" stroke-width="1.15" />
<text x="0" y="0" font-size="10.4" fill="#231f20" stroke="#231f20" stroke-width="0.25" text-anchor="middle" font-weight="normal" font-style="normal" transform="translate(143.65 370.98) scale(0.93 1)" >5</text>
<line x1="154.31" y1="357.40" x2="154.31" y2="359.00" stroke="#231f20" stroke-width="1.15" />
<line x1="164.98" y1="357.40" x2="164.98" y2="360.20" stroke="#231f20" stroke-width="1.15" />
<text x="0" y="0" font-size="10.4" fill="#231f20" stroke="#231f20" stroke-width="0.25" text-anchor="middle" font-weight="normal" font-style="normal" transform="translate(164.98 370.98) scale(0.93 1)" >6</text>
<line x1="175.64" y1="357.40" x2="175.64" y2="359.00" stroke="#231f20" stroke-width="1.15" />
<line x1="186.31" y1="357.40" x2="186.31" y2="360.20" stroke="#231f20" stroke-width="1.15" />
<text x="0" y="0" font-size="10.4" fill="#231f20" stroke="#231f20" stroke-width="0.25" text-anchor="middle" font-weight="normal" font-style="normal" transform="translate(186.31 370.98) scale(0.93 1)" >7</text>
<text x="111.70" y="385.60" font-size="9.4" fill="#231f20" stroke="#231f20" stroke-width="0.25" text-anchor="middle" font-weight="normal" font-style="normal" >Days post 20E injection (d)</text>
<text x="0" y="0" font-size="9.55" fill="#231f20" stroke="#231f20" stroke-width="0.25" text-anchor="middle" transform="translate(6.60 304.90) rotate(-90)" dy="3.44">Percent survival</text>
<polyline points="37.00,248.20 47.66,248.20 47.66,253.40 58.33,253.40 58.33,258.50 69.00,258.50 69.00,263.90 79.66,263.90 79.66,268.90 90.32,268.90 90.32,279.20 111.66,279.20 111.66,282.20 122.32,282.20 122.32,290.00 132.98,290.00 132.98,292.00 143.65,292.00 143.65,297.30 154.31,297.30 154.31,303.00 164.98,303.00 164.98,308.40 175.64,308.40 175.64,313.40 186.31,313.40 186.31,313.40 186.31,313.40 186.31,315.20" fill="none" stroke="#e04a2f" stroke-width="1.3" stroke-dasharray="2.5,2.5" />
<polyline points="37.00,248.20 47.66,248.20 47.66,302.70 58.33,302.70 58.33,319.90 69.00,319.90 69.00,323.80 79.66,323.80 79.66,328.20 100.99,328.20 100.99,332.60 143.65,332.60 143.65,334.40 154.31,334.40 154.31,336.60 175.64,336.60 175.64,345.40 186.31,345.40 186.31,345.40 186.31,345.40 186.31,351.20" fill="none" stroke="#e04a2f" stroke-width="1.25" />
<polyline points="37.00,248.20 47.66,248.20 47.66,252.50 79.66,252.50 79.66,254.90 186.31,254.90 186.31,254.90 186.31,254.90 186.31,252.80" fill="none" stroke="#231f20" stroke-width="1.35" stroke-dasharray="2.8,3.2" />
<polyline points="37.00,248.20 47.66,248.20 47.66,257.20 69.00,257.20 69.00,259.50 164.98,259.50 164.98,261.40 175.64,261.40 175.64,264.10 186.31,264.10 186.31,264.10 186.31,264.10 186.31,262.30" fill="none" stroke="#231f20" stroke-width="1.25" />
<text x="196.60" y="190.80" font-size="9.8" fill="#000" stroke="#000" stroke-width="0" text-anchor="start" font-weight="bold" font-style="normal" >e</text>
<rect x="238.40" y="223.20" width="13.50" height="6.50" fill="#a6a6a6" stroke="#3a3a3a" stroke-width="0.75"/>
<text x="257.20" y="229.90" font-size="9.4" fill="#231f20" stroke="#231f20" stroke-width="0.25" text-anchor="start" font-weight="normal" font-style="normal" >ds<tspan font-style="italic">GFP</tspan> +Control</text>
<rect x="238.40" y="236.00" width="13.50" height="6.20" fill="#d23c1d" stroke="#5a1a0c" stroke-width="0.75"/>
<text x="257.20" y="242.40" font-size="9.4" fill="#231f20" stroke="#231f20" stroke-width="0.25" text-anchor="start" font-weight="normal" font-style="normal" >ds<tspan font-style="italic">dessat1</tspan> +Control</text>
<rect x="238.40" y="248.70" width="13.50" height="6.20" fill="#ffffff" stroke="#555" stroke-width="0.75"/>
<text x="257.20" y="255.10" font-size="9.4" fill="#231f20" stroke="#231f20" stroke-width="0.25" text-anchor="start" font-weight="normal" font-style="normal" >ds<tspan font-style="italic">GFP</tspan> +20E</text>
<rect x="238.40" y="260.40" width="13.50" height="6.10" fill="#f6b5b8" stroke="#7a5050" stroke-width="0.75"/>
<text x="257.20" y="266.70" font-size="9.4" fill="#231f20" stroke="#231f20" stroke-width="0.25" text-anchor="start" font-weight="normal" font-style="normal" >ds<tspan font-style="italic">desat1</tspan> +20E</text>
<line x1="229.20" y1="233.00" x2="229.20" y2="350.40" stroke="#231f20" stroke-width="1.15" />
<line x1="226.20" y1="233.00" x2="229.20" y2="233.00" stroke="#231f20" stroke-width="1.15" />
<text x="0" y="0" font-size="10.5" fill="#231f20" stroke="#231f20" stroke-width="0.25" text-anchor="end" font-weight="normal" font-style="normal" transform="translate(222.60 236.17) scale(0.88 1)" >10</text>
<line x1="226.20" y1="256.44" x2="229.20" y2="256.44" stroke="#231f20" stroke-width="1.15" />
<text x="0" y="0" font-size="10.5" fill="#231f20" stroke="#231f20" stroke-width="0.25" text-anchor="end" font-weight="normal" font-style="normal" transform="translate(222.60 259.61) scale(0.88 1)" >8</text>
<line x1="226.20" y1="279.88" x2="229.20" y2="279.88" stroke="#231f20" stroke-width="1.15" />
<text x="0" y="0" font-size="10.5" fill="#231f20" stroke="#231f20" stroke-width="0.25" text-anchor="end" font-weight="normal" font-style="normal" transform="translate(222.60 283.05) scale(0.88 1)" >6</text>
<line x1="226.20" y1="303.32" x2="229.20" y2="303.32" stroke="#231f20" stroke-width="1.15" />
<text x="0" y="0" font-size="10.5" fill="#231f20" stroke="#231f20" stroke-width="0.25" text-anchor="end" font-weight="normal" font-style="normal" transform="translate(222.60 306.49) scale(0.88 1)" >2</text>
<line x1="226.20" y1="326.76" x2="229.20" y2="326.76" stroke="#231f20" stroke-width="1.15" />
<text x="0" y="0" font-size="10.5" fill="#231f20" stroke="#231f20" stroke-width="0.25" text-anchor="end" font-weight="normal" font-style="normal" transform="translate(222.60 329.93) scale(0.88 1)" >4</text>
<line x1="226.20" y1="350.20" x2="229.20" y2="350.20" stroke="#231f20" stroke-width="1.15" />
<text x="0" y="0" font-size="10.5" fill="#231f20" stroke="#231f20" stroke-width="0.25" text-anchor="end" font-weight="normal" font-style="normal" transform="translate(222.60 353.37) scale(0.88 1)" >0</text>
<line x1="225.80" y1="350.20" x2="425.40" y2="350.20" stroke="#231f20" stroke-width="1.15" />
<line x1="249.10" y1="350.20" x2="249.10" y2="353.30" stroke="#231f20" stroke-width="1.15" />
<line x1="288.10" y1="350.20" x2="288.10" y2="353.30" stroke="#231f20" stroke-width="1.15" />
<line x1="327.10" y1="350.20" x2="327.10" y2="353.30" stroke="#231f20" stroke-width="1.15" />
<line x1="366.10" y1="350.20" x2="366.10" y2="353.30" stroke="#231f20" stroke-width="1.15" />
<line x1="405.10" y1="350.20" x2="405.10" y2="353.30" stroke="#231f20" stroke-width="1.15" />
<rect x="234.20" y="338.48" width="4.80" height="11.72" fill="#a6a6a6" stroke="#3a3a3a" stroke-width="0.75"/>
<rect x="242.45" y="338.95" width="4.80" height="11.25" fill="#d23c1d" stroke="#3a1a10" stroke-width="0.75"/>
<rect x="250.80" y="336.14" width="4.80" height="14.06" fill="#ffffff" stroke="#666666" stroke-width="0.75"/>
<rect x="259.70" y="325.59" width="4.80" height="24.61" fill="#f6b5b8" stroke="#6a5a5a" stroke-width="0.75"/>
<rect x="273.20" y="337.89" width="4.80" height="12.31" fill="#a6a6a6" stroke="#3a3a3a" stroke-width="0.75"/>
<rect x="281.45" y="343.17" width="4.80" height="7.03" fill="#d23c1d" stroke="#3a1a10" stroke-width="0.75"/>
<rect x="289.80" y="329.10" width="4.80" height="21.10" fill="#ffffff" stroke="#666666" stroke-width="0.75"/>
<rect x="298.70" y="300.39" width="4.80" height="49.81" fill="#f6b5b8" stroke="#6a5a5a" stroke-width="0.75"/>
<rect x="312.20" y="338.01" width="4.80" height="12.19" fill="#a6a6a6" stroke="#3a3a3a" stroke-width="0.75"/>
<rect x="320.45" y="331.45" width="4.80" height="18.75" fill="#d23c1d" stroke="#3a1a10" stroke-width="0.75"/>
<rect x="328.80" y="334.14" width="4.80" height="16.06" fill="#ffffff" stroke="#666666" stroke-width="0.75"/>
<rect x="337.70" y="325.12" width="4.80" height="25.08" fill="#f6b5b8" stroke="#6a5a5a" stroke-width="0.75"/>
<rect x="351.20" y="338.01" width="4.80" height="12.19" fill="#a6a6a6" stroke="#3a3a3a" stroke-width="0.75"/>
<rect x="359.45" y="304.96" width="4.80" height="45.24" fill="#d23c1d" stroke="#3a1a10" stroke-width="0.75"/>
<rect x="367.80" y="330.98" width="4.80" height="19.22" fill="#ffffff" stroke="#666666" stroke-width="0.75"/>
<rect x="376.70" y="257.61" width="4.80" height="92.59" fill="#f6b5b8" stroke="#6a5a5a" stroke-width="0.75"/>
<rect x="390.20" y="338.48" width="4.80" height="11.72" fill="#a6a6a6" stroke="#3a3a3a" stroke-width="0.75"/>
<rect x="398.45" y="316.21" width="4.80" height="33.99" fill="#d23c1d" stroke="#3a1a10" stroke-width="0.75"/>
<rect x="406.80" y="334.03" width="4.80" height="16.17" fill="#ffffff" stroke="#666666" stroke-width="0.75"/>
<rect x="415.70" y="290.43" width="4.80" height="59.77" fill="#f6b5b8" stroke="#6a5a5a" stroke-width="0.75"/>
<line x1="236.60" y1="338.48" x2="236.60" y2="337.19" stroke="#111" stroke-width="0.85" />
<line x1="235.20" y1="337.19" x2="238.00" y2="337.19" stroke="#111" stroke-width="0.85" />
<circle cx="235.80" cy="338.28" r="1.05" fill="none" stroke="#111" stroke-width="0.65"/>
<circle cx="237.40" cy="338.68" r="1.05" fill="none" stroke="#111" stroke-width="0.65"/>
<circle cx="236.60" cy="337.58" r="1.05" fill="none" stroke="#111" stroke-width="0.65"/>
<line x1="244.85" y1="338.95" x2="244.85" y2="337.71" stroke="#111" stroke-width="0.85" />
<line x1="243.45" y1="337.71" x2="246.25" y2="337.71" stroke="#111" stroke-width="0.85" />
<circle cx="244.05" cy="338.75" r="1.05" fill="none" stroke="#111" stroke-width="0.65"/>
<circle cx="245.65" cy="339.15" r="1.05" fill="none" stroke="#111" stroke-width="0.65"/>
<circle cx="244.85" cy="338.05" r="1.05" fill="none" stroke="#111" stroke-width="0.65"/>
<line x1="253.20" y1="336.14" x2="253.20" y2="334.59" stroke="#111" stroke-width="0.85" />
<line x1="251.80" y1="334.59" x2="254.60" y2="334.59" stroke="#111" stroke-width="0.85" />
<circle cx="252.40" cy="335.94" r="1.05" fill="none" stroke="#111" stroke-width="0.65"/>
<circle cx="254.00" cy="336.34" r="1.05" fill="none" stroke="#111" stroke-width="0.65"/>
<circle cx="253.20" cy="335.24" r="1.05" fill="none" stroke="#111" stroke-width="0.65"/>
<line x1="262.10" y1="325.59" x2="262.10" y2="322.88" stroke="#111" stroke-width="0.85" />
<line x1="260.70" y1="322.88" x2="263.50" y2="322.88" stroke="#111" stroke-width="0.85" />
<circle cx="262.10" cy="319.67" r="1.05" fill="#fff" stroke="#111" stroke-width="0.65"/>
<circle cx="262.40" cy="326.99" r="1.05" fill="#fff" stroke="#111" stroke-width="0.65"/>
<circle cx="261.90" cy="332.48" r="1.05" fill="#fff" stroke="#111" stroke-width="0.65"/>
<line x1="275.60" y1="337.89" x2="275.60" y2="336.54" stroke="#111" stroke-width="0.85" />
<line x1="274.20" y1="336.54" x2="277.00" y2="336.54" stroke="#111" stroke-width="0.85" />
<circle cx="274.80" cy="337.69" r="1.05" fill="none" stroke="#111" stroke-width="0.65"/>
<circle cx="276.40" cy="338.09" r="1.05" fill="none" stroke="#111" stroke-width="0.65"/>
<circle cx="275.60" cy="336.99" r="1.05" fill="none" stroke="#111" stroke-width="0.65"/>
<line x1="283.85" y1="343.17" x2="283.85" y2="342.17" stroke="#111" stroke-width="0.85" />
<line x1="282.45" y1="342.17" x2="285.25" y2="342.17" stroke="#111" stroke-width="0.85" />
<circle cx="283.05" cy="342.97" r="1.05" fill="none" stroke="#111" stroke-width="0.65"/>
<circle cx="284.65" cy="343.37" r="1.05" fill="none" stroke="#111" stroke-width="0.65"/>
<circle cx="283.85" cy="342.27" r="1.05" fill="none" stroke="#111" stroke-width="0.65"/>
<line x1="292.20" y1="329.10" x2="292.20" y2="326.78" stroke="#111" stroke-width="0.85" />
<line x1="290.80" y1="326.78" x2="293.60" y2="326.78" stroke="#111" stroke-width="0.85" />
<circle cx="292.20" cy="323.88" r="1.05" fill="#fff" stroke="#111" stroke-width="0.65"/>
<circle cx="292.50" cy="330.50" r="1.05" fill="#fff" stroke="#111" stroke-width="0.65"/>
<circle cx="292.00" cy="335.01" r="1.05" fill="#fff" stroke="#111" stroke-width="0.65"/>
<line x1="301.10" y1="300.39" x2="301.10" y2="294.91" stroke="#111" stroke-width="0.85" />
<line x1="299.70" y1="294.91" x2="302.50" y2="294.91" stroke="#111" stroke-width="0.85" />
<circle cx="301.10" cy="291.41" r="1.05" fill="#fff" stroke="#111" stroke-width="0.65"/>
<circle cx="301.40" cy="301.79" r="1.05" fill="#fff" stroke="#111" stroke-width="0.65"/>
<circle cx="300.90" cy="308.39" r="1.05" fill="#fff" stroke="#111" stroke-width="0.65"/>
<line x1="314.60" y1="338.01" x2="314.60" y2="336.67" stroke="#111" stroke-width="0.85" />
<line x1="313.20" y1="336.67" x2="316.00" y2="336.67" stroke="#111" stroke-width="0.85" />
<circle cx="313.80" cy="337.81" r="1.05" fill="none" stroke="#111" stroke-width="0.65"/>
<circle cx="315.40" cy="338.21" r="1.05" fill="none" stroke="#111" stroke-width="0.65"/>
<circle cx="314.60" cy="337.11" r="1.05" fill="none" stroke="#111" stroke-width="0.65"/>
<line x1="322.85" y1="331.45" x2="322.85" y2="329.39" stroke="#111" stroke-width="0.85" />
<line x1="321.45" y1="329.39" x2="324.25" y2="329.39" stroke="#111" stroke-width="0.85" />
<circle cx="322.85" cy="326.70" r="1.05" fill="#fff" stroke="#111" stroke-width="0.65"/>
<circle cx="323.15" cy="332.85" r="1.05" fill="#fff" stroke="#111" stroke-width="0.65"/>
<circle cx="322.65" cy="336.70" r="1.05" fill="#fff" stroke="#111" stroke-width="0.65"/>
<line x1="331.20" y1="334.14" x2="331.20" y2="332.38" stroke="#111" stroke-width="0.85" />
<line x1="329.80" y1="332.38" x2="332.60" y2="332.38" stroke="#111" stroke-width="0.85" />
<circle cx="331.20" cy="329.93" r="1.05" fill="#fff" stroke="#111" stroke-width="0.65"/>
<circle cx="331.50" cy="335.54" r="1.05" fill="#fff" stroke="#111" stroke-width="0.65"/>
<circle cx="331.00" cy="338.64" r="1.05" fill="#fff" stroke="#111" stroke-width="0.65"/>
<line x1="340.10" y1="325.12" x2="340.10" y2="322.36" stroke="#111" stroke-width="0.85" />
<line x1="338.70" y1="322.36" x2="341.50" y2="322.36" stroke="#111" stroke-width="0.85" />
<circle cx="340.10" cy="319.10" r="1.05" fill="#fff" stroke="#111" stroke-width="0.65"/>
<circle cx="340.40" cy="326.52" r="1.05" fill="#fff" stroke="#111" stroke-width="0.65"/>
<circle cx="339.90" cy="332.14" r="1.05" fill="#fff" stroke="#111" stroke-width="0.65"/>
<line x1="353.60" y1="338.01" x2="353.60" y2="336.67" stroke="#111" stroke-width="0.85" />
<line x1="352.20" y1="336.67" x2="355.00" y2="336.67" stroke="#111" stroke-width="0.85" />
<circle cx="352.80" cy="337.81" r="1.05" fill="none" stroke="#111" stroke-width="0.65"/>
<circle cx="354.40" cy="338.21" r="1.05" fill="none" stroke="#111" stroke-width="0.65"/>
<circle cx="353.60" cy="337.11" r="1.05" fill="none" stroke="#111" stroke-width="0.65"/>
<line x1="361.85" y1="304.96" x2="361.85" y2="299.98" stroke="#111" stroke-width="0.85" />
<line x1="360.45" y1="299.98" x2="363.25" y2="299.98" stroke="#111" stroke-width="0.85" />
<circle cx="361.85" cy="296.48" r="1.05" fill="#fff" stroke="#111" stroke-width="0.65"/>
<circle cx="362.15" cy="306.36" r="1.05" fill="#fff" stroke="#111" stroke-width="0.65"/>
<circle cx="361.65" cy="312.96" r="1.05" fill="#fff" stroke="#111" stroke-width="0.65"/>
<line x1="370.20" y1="330.98" x2="370.20" y2="328.86" stroke="#111" stroke-width="0.85" />
<line x1="368.80" y1="328.86" x2="371.60" y2="328.86" stroke="#111" stroke-width="0.85" />
<circle cx="370.20" cy="326.14" r="1.05" fill="#fff" stroke="#111" stroke-width="0.65"/>
<circle cx="370.50" cy="332.38" r="1.05" fill="#fff" stroke="#111" stroke-width="0.65"/>
<circle cx="370.00" cy="336.36" r="1.05" fill="#fff" stroke="#111" stroke-width="0.65"/>
<line x1="379.10" y1="257.61" x2="379.10" y2="252.11" stroke="#111" stroke-width="0.85" />
<line x1="377.70" y1="252.11" x2="380.50" y2="252.11" stroke="#111" stroke-width="0.85" />
<circle cx="379.10" cy="248.61" r="1.05" fill="#fff" stroke="#111" stroke-width="0.65"/>
<circle cx="379.40" cy="259.01" r="1.05" fill="#fff" stroke="#111" stroke-width="0.65"/>
<circle cx="378.90" cy="265.61" r="1.05" fill="#fff" stroke="#111" stroke-width="0.65"/>
<line x1="392.60" y1="338.48" x2="392.60" y2="337.19" stroke="#111" stroke-width="0.85" />
<line x1="391.20" y1="337.19" x2="394.00" y2="337.19" stroke="#111" stroke-width="0.85" />
<circle cx="391.80" cy="338.28" r="1.05" fill="none" stroke="#111" stroke-width="0.65"/>
<circle cx="393.40" cy="338.68" r="1.05" fill="none" stroke="#111" stroke-width="0.65"/>
<circle cx="392.60" cy="337.58" r="1.05" fill="none" stroke="#111" stroke-width="0.65"/>
<line x1="400.85" y1="316.21" x2="400.85" y2="312.47" stroke="#111" stroke-width="0.85" />
<line x1="399.45" y1="312.47" x2="402.25" y2="312.47" stroke="#111" stroke-width="0.85" />
<circle cx="400.85" cy="308.97" r="1.05" fill="#fff" stroke="#111" stroke-width="0.65"/>
<circle cx="401.15" cy="317.61" r="1.05" fill="#fff" stroke="#111" stroke-width="0.65"/>
<circle cx="400.65" cy="324.21" r="1.05" fill="#fff" stroke="#111" stroke-width="0.65"/>
<line x1="409.20" y1="334.03" x2="409.20" y2="332.25" stroke="#111" stroke-width="0.85" />
<line x1="407.80" y1="332.25" x2="410.60" y2="332.25" stroke="#111" stroke-width="0.85" />
<circle cx="409.20" cy="329.79" r="1.05" fill="#fff" stroke="#111" stroke-width="0.65"/>
<circle cx="409.50" cy="335.43" r="1.05" fill="#fff" stroke="#111" stroke-width="0.65"/>
<circle cx="409.00" cy="338.56" r="1.05" fill="#fff" stroke="#111" stroke-width="0.65"/>
<line x1="418.10" y1="290.43" x2="418.10" y2="284.93" stroke="#111" stroke-width="0.85" />
<line x1="416.70" y1="284.93" x2="419.50" y2="284.93" stroke="#111" stroke-width="0.85" />
<circle cx="418.10" cy="281.43" r="1.05" fill="#fff" stroke="#111" stroke-width="0.65"/>
<circle cx="418.40" cy="291.83" r="1.05" fill="#fff" stroke="#111" stroke-width="0.65"/>
<circle cx="417.90" cy="298.43" r="1.05" fill="#fff" stroke="#111" stroke-width="0.65"/>
<polyline points="237.90,330.60 237.90,328.00 244.80,328.00 244.80,330.60" fill="none" stroke="#231f20" stroke-width="0.95" />
<text x="241.85" y="326.30" font-size="9.2" fill="#231f20" stroke="#231f20" stroke-width="0.25" text-anchor="middle" font-weight="normal" font-style="normal" >ns</text>
<polyline points="245.30,308.10 245.30,305.50 261.50,305.50 261.50,308.10" fill="none" stroke="#231f20" stroke-width="0.95" />
<polygon points="252.35,300.21 252.84,301.28 254.01,301.42 253.15,302.22 253.38,303.38 252.35,302.80 251.32,303.38 251.55,302.22 250.69,301.42 251.86,301.28" fill="#231f20"/>
<polygon points="255.65,300.21 256.14,301.28 257.31,301.42 256.45,302.22 256.68,303.38 255.65,302.80 254.62,303.38 254.85,302.22 253.99,301.42 255.16,301.28" fill="#231f20"/>
<polyline points="253.30,317.40 253.30,314.80 261.50,314.80 261.50,317.40" fill="none" stroke="#231f20" stroke-width="0.95" />
<polygon points="256.35,309.01 256.84,310.08 258.01,310.22 257.15,311.02 257.38,312.18 256.35,311.60 255.32,312.18 255.55,311.02 254.69,310.22 255.86,310.08" fill="#231f20"/>
<polygon points="259.65,309.01 260.14,310.08 261.31,310.22 260.45,311.02 260.68,312.18 259.65,311.60 258.62,312.18 258.85,311.02 257.99,310.22 259.16,310.08" fill="#231f20"/>
<polyline points="276.00,332.70 276.00,330.10 283.40,330.10 283.40,332.70" fill="none" stroke="#231f20" stroke-width="0.95" />
<text x="280.20" y="327.90" font-size="9.2" fill="#231f20" stroke="#231f20" stroke-width="0.25" text-anchor="middle" font-weight="normal" font-style="normal" >ns</text>
<polyline points="284.20,283.10 284.20,280.50 299.70,280.50 299.70,283.10" fill="none" stroke="#231f20" stroke-width="0.95" />
<polygon points="289.25,275.01 289.74,276.08 290.91,276.22 290.05,277.02 290.28,278.18 289.25,277.60 288.22,278.18 288.45,277.02 287.59,276.22 288.76,276.08" fill="#231f20"/>
<polygon points="292.55,275.01 293.04,276.08 294.21,276.22 293.35,277.02 293.58,278.18 292.55,277.60 291.52,278.18 291.75,277.02 290.89,276.22 292.06,276.08" fill="#231f20"/>
<polygon points="295.85,275.01 296.34,276.08 297.51,276.22 296.65,277.02 296.88,278.18 295.85,277.60 294.82,278.18 295.05,277.02 294.19,276.22 295.36,276.08" fill="#231f20"/>
<polyline points="292.00,292.20 292.00,289.60 299.70,289.60 299.70,292.20" fill="none" stroke="#231f20" stroke-width="0.95" />
<polygon points="294.80,284.01 295.29,285.08 296.46,285.22 295.60,286.02 295.83,287.18 294.80,286.60 293.77,287.18 294.00,286.02 293.14,285.22 294.31,285.08" fill="#231f20"/>
<polygon points="298.10,284.01 298.59,285.08 299.76,285.22 298.90,286.02 299.13,287.18 298.10,286.60 297.07,287.18 297.30,286.02 296.44,285.22 297.61,285.08" fill="#231f20"/>
<polyline points="315.50,329.00 315.50,326.40 324.00,326.40 324.00,329.00" fill="none" stroke="#231f20" stroke-width="0.95" />
<polygon points="317.05,320.51 317.54,321.58 318.71,321.72 317.85,322.52 318.08,323.68 317.05,323.10 316.02,323.68 316.25,322.52 315.39,321.72 316.56,321.58" fill="#231f20"/>
<polygon points="320.35,320.51 320.84,321.58 322.01,321.72 321.15,322.52 321.38,323.68 320.35,323.10 319.32,323.68 319.55,322.52 318.69,321.72 319.86,321.58" fill="#231f20"/>
<polygon points="323.65,320.51 324.14,321.58 325.31,321.72 324.45,322.52 324.68,323.68 323.65,323.10 322.62,323.68 322.85,322.52 321.99,321.72 323.16,321.58" fill="#231f20"/>
<polyline points="322.40,310.90 322.40,308.30 337.10,308.30 337.10,310.90" fill="none" stroke="#231f20" stroke-width="0.95" />
<polygon points="330.35,302.51 330.84,303.58 332.01,303.72 331.15,304.52 331.38,305.68 330.35,305.10 329.32,305.68 329.55,304.52 328.69,303.72 329.86,303.58" fill="#231f20"/>
<polyline points="329.40,320.20 329.40,317.60 337.10,317.60 337.10,320.20" fill="none" stroke="#231f20" stroke-width="0.95" />
<polygon points="332.20,312.21 332.69,313.28 333.86,313.42 333.00,314.22 333.23,315.38 332.20,314.80 331.17,315.38 331.40,314.22 330.54,313.42 331.71,313.28" fill="#231f20"/>
<polygon points="335.50,312.21 335.99,313.28 337.16,313.42 336.30,314.22 336.53,315.38 335.50,314.80 334.47,315.38 334.70,314.22 333.84,313.42 335.01,313.28" fill="#231f20"/>
<polyline points="354.10,291.40 354.10,288.80 362.10,288.80 362.10,291.40" fill="none" stroke="#231f20" stroke-width="0.95" />
<polygon points="357.05,282.81 357.54,283.88 358.71,284.02 357.85,284.82 358.08,285.98 357.05,285.40 356.02,285.98 356.25,284.82 355.39,284.02 356.56,283.88" fill="#231f20"/>
<polygon points="360.35,282.81 360.84,283.88 362.01,284.02 361.15,284.82 361.38,285.98 360.35,285.40 359.32,285.98 359.55,284.82 358.69,284.02 359.86,283.88" fill="#231f20"/>
<polyline points="361.40,235.80 361.40,233.20 378.00,233.20 378.00,235.80" fill="none" stroke="#231f20" stroke-width="0.95" />
<polygon points="368.65,227.51 369.14,228.58 370.31,228.72 369.45,229.52 369.68,230.68 368.65,230.10 367.62,230.68 367.85,229.52 366.99,228.72 368.16,228.58" fill="#231f20"/>
<polygon points="371.95,227.51 372.44,228.58 373.61,228.72 372.75,229.52 372.98,230.68 371.95,230.10 370.92,230.68 371.15,229.52 370.29,228.72 371.46,228.58" fill="#231f20"/>
<polyline points="370.40,247.40 370.40,244.80 378.00,244.80 378.00,247.40" fill="none" stroke="#231f20" stroke-width="0.95" />
<polygon points="371.50,239.01 371.99,240.08 373.16,240.22 372.30,241.02 372.53,242.18 371.50,241.60 370.47,242.18 370.70,241.02 369.84,240.22 371.01,240.08" fill="#231f20"/>
<polygon points="374.80,239.01 375.29,240.08 376.46,240.22 375.60,241.02 375.83,242.18 374.80,241.60 373.77,242.18 374.00,241.02 373.14,240.22 374.31,240.08" fill="#231f20"/>
<polygon points="378.10,239.01 378.59,240.08 379.76,240.22 378.90,241.02 379.13,242.18 378.10,241.60 377.07,242.18 377.30,241.02 376.44,240.22 377.61,240.08" fill="#231f20"/>
<polyline points="392.80,305.20 392.80,302.60 399.60,302.60 399.60,305.20" fill="none" stroke="#231f20" stroke-width="0.95" />
<polygon points="395.15,297.81 395.64,298.88 396.81,299.02 395.95,299.82 396.18,300.98 395.15,300.40 394.12,300.98 394.35,299.82 393.49,299.02 394.66,298.88" fill="#231f20"/>
<polygon points="398.45,297.81 398.94,298.88 400.11,299.02 399.25,299.82 399.48,300.98 398.45,300.40 397.42,300.98 397.65,299.82 396.79,299.02 397.96,298.88" fill="#231f20"/>
<polyline points="402.50,270.50 402.50,267.90 417.30,267.90 417.30,270.50" fill="none" stroke="#231f20" stroke-width="0.95" />
<polygon points="410.50,261.91 410.99,262.98 412.16,263.12 411.30,263.92 411.53,265.08 410.50,264.50 409.47,265.08 409.70,263.92 408.84,263.12 410.01,262.98" fill="#231f20"/>
<polyline points="409.20,279.90 409.20,277.30 417.30,277.30 417.30,279.90" fill="none" stroke="#231f20" stroke-width="0.95" />
<polygon points="412.20,271.81 412.69,272.88 413.86,273.02 413.00,273.82 413.23,274.98 412.20,274.40 411.17,274.98 411.40,273.82 410.54,273.02 411.71,272.88" fill="#231f20"/>
<polygon points="415.50,271.81 415.99,272.88 417.16,273.02 416.30,273.82 416.53,274.98 415.50,274.40 414.47,274.98 414.70,273.82 413.84,273.02 415.01,272.88" fill="#231f20"/>
<text x="0" y="0" font-size="9.9" fill="#231f20" stroke="#231f20" stroke-width="0.25" text-anchor="end" transform="translate(253.60 360.70) matrix(0.7071 -0.7071 0.5299 0.8480 0 0)">Duox</text>
<text x="0" y="0" font-size="9.9" fill="#231f20" stroke="#231f20" stroke-width="0.25" text-anchor="end" transform="translate(292.40 362.70) matrix(0.7071 -0.7071 0.5299 0.8480 0 0)">Nox5</text>
<text x="0" y="0" font-size="9.9" fill="#231f20" stroke="#231f20" stroke-width="0.25" text-anchor="end" transform="translate(329.80 362.10) matrix(0.7071 -0.7071 0.5299 0.8480 0 0)">Hpx2</text>
<text x="0" y="0" font-size="9.9" fill="#231f20" stroke="#231f20" stroke-width="0.25" text-anchor="end" transform="translate(365.40 361.50) matrix(0.7071 -0.7071 0.5299 0.8480 0 0)">Nos</text>
<text x="0" y="0" font-size="9.9" fill="#231f20" stroke="#231f20" stroke-width="0.25" text-anchor="end" transform="translate(407.80 360.50) matrix(0.7071 -0.7071 0.5299 0.8480 0 0)">Catalase</text>
<text x="0" y="0" font-size="9.85" fill="#231f20" stroke="#231f20" stroke-width="0.25" text-anchor="middle" transform="translate(203.50 291.60) rotate(-90)" dy="3.55">Relative expression/<tspan font-style="italic">S7</tspan></text>
<text x="428.80" y="190.80" font-size="9.8" fill="#000" stroke="#000" stroke-width="0" text-anchor="start" font-weight="bold" font-style="normal" >f</text>
<rect x="476.60" y="223.20" width="13.30" height="6.50" fill="#a6a6a6" stroke="#3a3a3a" stroke-width="0.7"/>
<text x="495.80" y="229.90" font-size="9.4" fill="#231f20" stroke="#231f20" stroke-width="0.25" text-anchor="start" font-weight="normal" font-style="normal" >ds<tspan font-style="italic">GFP</tspan> +Control</text>
<rect x="476.60" y="235.40" width="13.30" height="6.20" fill="#d23c1d" stroke="#5a1a0c" stroke-width="0.7"/>
<text x="495.80" y="241.80" font-size="9.4" fill="#231f20" stroke="#231f20" stroke-width="0.25" text-anchor="start" font-weight="normal" font-style="normal" >ds<tspan font-style="italic">dessat1</tspan> +Control</text>
<rect x="476.60" y="248.30" width="13.30" height="5.50" fill="#ffffff" stroke="#555" stroke-width="0.7"/>
<text x="495.80" y="254.00" font-size="9.4" fill="#231f20" stroke="#231f20" stroke-width="0.25" text-anchor="start" font-weight="normal" font-style="normal" >ds<tspan font-style="italic">GFP</tspan> +20E</text>
<rect x="476.60" y="260.00" width="13.30" height="5.70" fill="#f6b5b8" stroke="#7a5050" stroke-width="0.7"/>
<text x="495.80" y="265.90" font-size="9.4" fill="#231f20" stroke="#231f20" stroke-width="0.25" text-anchor="start" font-weight="normal" font-style="normal" >ds<tspan font-style="italic">desat1</tspan> +20E</text>
<line x1="463.00" y1="232.40" x2="463.00" y2="348.40" stroke="#231f20" stroke-width="1.15" />
<line x1="460.20" y1="232.40" x2="463.00" y2="232.40" stroke="#231f20" stroke-width="1.15" />
<text x="0" y="0" font-size="10.5" fill="#231f20" stroke="#231f20" stroke-width="0.25" text-anchor="end" font-weight="normal" font-style="normal" transform="translate(456.90 239.22) scale(0.88 1)" >20</text>
<line x1="460.20" y1="261.35" x2="463.00" y2="261.35" stroke="#231f20" stroke-width="1.15" />
<text x="0" y="0" font-size="10.5" fill="#231f20" stroke="#231f20" stroke-width="0.25" text-anchor="end" font-weight="normal" font-style="normal" transform="translate(456.90 268.17) scale(0.88 1)" >15</text>
<line x1="460.20" y1="290.30" x2="463.00" y2="290.30" stroke="#231f20" stroke-width="1.15" />
<text x="0" y="0" font-size="10.5" fill="#231f20" stroke="#231f20" stroke-width="0.25" text-anchor="end" font-weight="normal" font-style="normal" transform="translate(456.90 297.12) scale(0.88 1)" >10</text>
<line x1="460.20" y1="319.25" x2="463.00" y2="319.25" stroke="#231f20" stroke-width="1.15" />
<text x="0" y="0" font-size="10.5" fill="#231f20" stroke="#231f20" stroke-width="0.25" text-anchor="end" font-weight="normal" font-style="normal" transform="translate(456.90 326.07) scale(0.88 1)" >5</text>
<line x1="460.20" y1="348.20" x2="463.00" y2="348.20" stroke="#231f20" stroke-width="1.15" />
<text x="0" y="0" font-size="10.5" fill="#231f20" stroke="#231f20" stroke-width="0.25" text-anchor="end" font-weight="normal" font-style="normal" transform="translate(456.90 355.02) scale(0.88 1)" >0</text>
<line x1="462.80" y1="348.30" x2="685.00" y2="348.30" stroke="#231f20" stroke-width="1.15" />
<line x1="479.30" y1="348.30" x2="479.30" y2="351.60" stroke="#231f20" stroke-width="1.15" />
<line x1="510.80" y1="348.30" x2="510.80" y2="351.60" stroke="#231f20" stroke-width="1.15" />
<line x1="542.30" y1="348.30" x2="542.30" y2="351.60" stroke="#231f20" stroke-width="1.15" />
<line x1="573.80" y1="348.30" x2="573.80" y2="351.60" stroke="#231f20" stroke-width="1.15" />
<line x1="605.30" y1="348.30" x2="605.30" y2="351.60" stroke="#231f20" stroke-width="1.15" />
<line x1="636.80" y1="348.30" x2="636.80" y2="351.60" stroke="#231f20" stroke-width="1.15" />
<line x1="668.30" y1="348.30" x2="668.30" y2="351.60" stroke="#231f20" stroke-width="1.15" />
<rect x="467.50" y="342.42" width="4.00" height="5.78" fill="#a6a6a6" stroke="#3a3a3a" stroke-width="0.75"/>
<rect x="474.20" y="340.97" width="4.00" height="7.23" fill="#d23c1d" stroke="#3a1a10" stroke-width="0.75"/>
<rect x="480.70" y="342.82" width="4.00" height="5.38" fill="#ffffff" stroke="#666666" stroke-width="0.75"/>
<rect x="487.30" y="339.53" width="4.00" height="8.67" fill="#f6b5b8" stroke="#6a5a5a" stroke-width="0.75"/>
<rect x="499.00" y="342.42" width="4.00" height="5.78" fill="#a6a6a6" stroke="#3a3a3a" stroke-width="0.75"/>
<rect x="505.70" y="336.93" width="4.00" height="11.27" fill="#d23c1d" stroke="#3a1a10" stroke-width="0.75"/>
<rect x="512.20" y="345.02" width="4.00" height="3.18" fill="#ffffff" stroke="#666666" stroke-width="0.75"/>
<rect x="518.80" y="340.97" width="4.00" height="7.23" fill="#f6b5b8" stroke="#6a5a5a" stroke-width="0.75"/>
<rect x="530.50" y="342.19" width="4.00" height="6.01" fill="#a6a6a6" stroke="#3a3a3a" stroke-width="0.75"/>
<rect x="537.20" y="338.72" width="4.00" height="9.48" fill="#d23c1d" stroke="#3a1a10" stroke-width="0.75"/>
<rect x="543.70" y="346.29" width="4.00" height="1.91" fill="#ffffff" stroke="#666666" stroke-width="0.75"/>
<rect x="550.30" y="344.73" width="4.00" height="3.47" fill="#f6b5b8" stroke="#6a5a5a" stroke-width="0.75"/>
<rect x="562.00" y="341.26" width="4.00" height="6.94" fill="#a6a6a6" stroke="#3a3a3a" stroke-width="0.75"/>
<rect x="568.70" y="333.75" width="4.00" height="14.45" fill="#d23c1d" stroke="#3a1a10" stroke-width="0.75"/>
<rect x="575.20" y="338.95" width="4.00" height="9.25" fill="#ffffff" stroke="#666666" stroke-width="0.75"/>
<rect x="581.80" y="319.30" width="4.00" height="28.90" fill="#f6b5b8" stroke="#6a5a5a" stroke-width="0.75"/>
<rect x="593.50" y="341.55" width="4.00" height="6.65" fill="#a6a6a6" stroke="#3a3a3a" stroke-width="0.75"/>
<rect x="600.20" y="332.88" width="4.00" height="15.32" fill="#d23c1d" stroke="#3a1a10" stroke-width="0.75"/>
<rect x="606.70" y="341.26" width="4.00" height="6.94" fill="#ffffff" stroke="#666666" stroke-width="0.75"/>
<rect x="613.30" y="312.36" width="4.00" height="35.84" fill="#f6b5b8" stroke="#6a5a5a" stroke-width="0.75"/>
<rect x="625.00" y="342.19" width="4.00" height="6.01" fill="#a6a6a6" stroke="#3a3a3a" stroke-width="0.75"/>
<rect x="631.70" y="317.85" width="4.00" height="30.35" fill="#d23c1d" stroke="#3a1a10" stroke-width="0.75"/>
<rect x="638.20" y="337.39" width="4.00" height="10.81" fill="#ffffff" stroke="#666666" stroke-width="0.75"/>
<rect x="644.80" y="269.59" width="4.00" height="78.61" fill="#f6b5b8" stroke="#6a5a5a" stroke-width="0.75"/>
<rect x="656.50" y="342.02" width="4.00" height="6.18" fill="#a6a6a6" stroke="#3a3a3a" stroke-width="0.75"/>
<rect x="663.20" y="304.85" width="4.00" height="43.35" fill="#d23c1d" stroke="#3a1a10" stroke-width="0.75"/>
<rect x="669.70" y="333.75" width="4.00" height="14.45" fill="#ffffff" stroke="#666666" stroke-width="0.75"/>
<rect x="676.30" y="282.31" width="4.00" height="65.89" fill="#f6b5b8" stroke="#6a5a5a" stroke-width="0.75"/>
<line x1="469.50" y1="342.42" x2="469.50" y2="341.42" stroke="#111" stroke-width="0.85" />
<line x1="468.30" y1="341.42" x2="470.70" y2="341.42" stroke="#111" stroke-width="0.85" />
<circle cx="468.70" cy="342.22" r="1.05" fill="none" stroke="#111" stroke-width="0.65"/>
<circle cx="470.30" cy="342.62" r="1.05" fill="none" stroke="#111" stroke-width="0.65"/>
<circle cx="469.50" cy="341.52" r="1.05" fill="none" stroke="#111" stroke-width="0.65"/>
<line x1="476.20" y1="340.97" x2="476.20" y2="339.97" stroke="#111" stroke-width="0.85" />
<line x1="475.00" y1="339.97" x2="477.40" y2="339.97" stroke="#111" stroke-width="0.85" />
<circle cx="475.40" cy="340.77" r="1.05" fill="none" stroke="#111" stroke-width="0.65"/>
<circle cx="477.00" cy="341.17" r="1.05" fill="none" stroke="#111" stroke-width="0.65"/>
<circle cx="476.20" cy="340.07" r="1.05" fill="none" stroke="#111" stroke-width="0.65"/>
<line x1="482.70" y1="342.82" x2="482.70" y2="341.82" stroke="#111" stroke-width="0.85" />
<line x1="481.50" y1="341.82" x2="483.90" y2="341.82" stroke="#111" stroke-width="0.85" />
<circle cx="481.90" cy="342.62" r="1.05" fill="none" stroke="#111" stroke-width="0.65"/>
<circle cx="483.50" cy="343.02" r="1.05" fill="none" stroke="#111" stroke-width="0.65"/>
<circle cx="482.70" cy="341.92" r="1.05" fill="none" stroke="#111" stroke-width="0.65"/>
<line x1="489.30" y1="339.53" x2="489.30" y2="338.53" stroke="#111" stroke-width="0.85" />
<line x1="488.10" y1="338.53" x2="490.50" y2="338.53" stroke="#111" stroke-width="0.85" />
<circle cx="488.50" cy="339.33" r="1.05" fill="none" stroke="#111" stroke-width="0.65"/>
<circle cx="490.10" cy="339.73" r="1.05" fill="none" stroke="#111" stroke-width="0.65"/>
<circle cx="489.30" cy="338.63" r="1.05" fill="none" stroke="#111" stroke-width="0.65"/>
<line x1="501.00" y1="342.42" x2="501.00" y2="341.42" stroke="#111" stroke-width="0.85" />
<line x1="499.80" y1="341.42" x2="502.20" y2="341.42" stroke="#111" stroke-width="0.85" />
<circle cx="500.20" cy="342.22" r="1.05" fill="none" stroke="#111" stroke-width="0.65"/>
<circle cx="501.80" cy="342.62" r="1.05" fill="none" stroke="#111" stroke-width="0.65"/>
<circle cx="501.00" cy="341.52" r="1.05" fill="none" stroke="#111" stroke-width="0.65"/>
<line x1="507.70" y1="336.93" x2="507.70" y2="335.69" stroke="#111" stroke-width="0.85" />
<line x1="506.50" y1="335.69" x2="508.90" y2="335.69" stroke="#111" stroke-width="0.85" />
<circle cx="506.90" cy="336.73" r="1.05" fill="none" stroke="#111" stroke-width="0.65"/>
<circle cx="508.50" cy="337.13" r="1.05" fill="none" stroke="#111" stroke-width="0.65"/>
<circle cx="507.70" cy="336.03" r="1.05" fill="none" stroke="#111" stroke-width="0.65"/>
<line x1="514.20" y1="345.02" x2="514.20" y2="344.02" stroke="#111" stroke-width="0.85" />
<line x1="513.00" y1="344.02" x2="515.40" y2="344.02" stroke="#111" stroke-width="0.85" />
<circle cx="513.40" cy="344.82" r="1.05" fill="none" stroke="#111" stroke-width="0.65"/>
<circle cx="515.00" cy="345.22" r="1.05" fill="none" stroke="#111" stroke-width="0.65"/>
<circle cx="514.20" cy="344.12" r="1.05" fill="none" stroke="#111" stroke-width="0.65"/>
<line x1="520.80" y1="340.97" x2="520.80" y2="339.97" stroke="#111" stroke-width="0.85" />
<line x1="519.60" y1="339.97" x2="522.00" y2="339.97" stroke="#111" stroke-width="0.85" />
<circle cx="520.00" cy="340.77" r="1.05" fill="none" stroke="#111" stroke-width="0.65"/>
<circle cx="521.60" cy="341.17" r="1.05" fill="none" stroke="#111" stroke-width="0.65"/>
<circle cx="520.80" cy="340.07" r="1.05" fill="none" stroke="#111" stroke-width="0.65"/>
<line x1="532.50" y1="342.19" x2="532.50" y2="341.19" stroke="#111" stroke-width="0.85" />
<line x1="531.30" y1="341.19" x2="533.70" y2="341.19" stroke="#111" stroke-width="0.85" />
<circle cx="531.70" cy="341.99" r="1.05" fill="none" stroke="#111" stroke-width="0.65"/>
<circle cx="533.30" cy="342.39" r="1.05" fill="none" stroke="#111" stroke-width="0.65"/>
<circle cx="532.50" cy="341.29" r="1.05" fill="none" stroke="#111" stroke-width="0.65"/>
<line x1="539.20" y1="338.72" x2="539.20" y2="337.68" stroke="#111" stroke-width="0.85" />
<line x1="538.00" y1="337.68" x2="540.40" y2="337.68" stroke="#111" stroke-width="0.85" />
<circle cx="538.40" cy="338.52" r="1.05" fill="none" stroke="#111" stroke-width="0.65"/>
<circle cx="540.00" cy="338.92" r="1.05" fill="none" stroke="#111" stroke-width="0.65"/>
<circle cx="539.20" cy="337.82" r="1.05" fill="none" stroke="#111" stroke-width="0.65"/>
<line x1="545.70" y1="346.29" x2="545.70" y2="345.29" stroke="#111" stroke-width="0.85" />
<line x1="544.50" y1="345.29" x2="546.90" y2="345.29" stroke="#111" stroke-width="0.85" />
<circle cx="544.90" cy="346.09" r="1.05" fill="none" stroke="#111" stroke-width="0.65"/>
<circle cx="546.50" cy="346.49" r="1.05" fill="none" stroke="#111" stroke-width="0.65"/>
<circle cx="545.70" cy="345.39" r="1.05" fill="none" stroke="#111" stroke-width="0.65"/>
<line x1="552.30" y1="344.73" x2="552.30" y2="343.73" stroke="#111" stroke-width="0.85" />
<line x1="551.10" y1="343.73" x2="553.50" y2="343.73" stroke="#111" stroke-width="0.85" />
<circle cx="551.50" cy="344.53" r="1.05" fill="none" stroke="#111" stroke-width="0.65"/>
<circle cx="553.10" cy="344.93" r="1.05" fill="none" stroke="#111" stroke-width="0.65"/>
<circle cx="552.30" cy="343.83" r="1.05" fill="none" stroke="#111" stroke-width="0.65"/>
<line x1="564.00" y1="341.26" x2="564.00" y2="340.26" stroke="#111" stroke-width="0.85" />
<line x1="562.80" y1="340.26" x2="565.20" y2="340.26" stroke="#111" stroke-width="0.85" />
<circle cx="563.20" cy="341.06" r="1.05" fill="none" stroke="#111" stroke-width="0.65"/>
<circle cx="564.80" cy="341.46" r="1.05" fill="none" stroke="#111" stroke-width="0.65"/>
<circle cx="564.00" cy="340.36" r="1.05" fill="none" stroke="#111" stroke-width="0.65"/>
<line x1="570.70" y1="333.75" x2="570.70" y2="332.16" stroke="#111" stroke-width="0.85" />
<line x1="569.50" y1="332.16" x2="571.90" y2="332.16" stroke="#111" stroke-width="0.85" />
<circle cx="569.90" cy="333.55" r="1.05" fill="none" stroke="#111" stroke-width="0.65"/>
<circle cx="571.50" cy="333.95" r="1.05" fill="none" stroke="#111" stroke-width="0.65"/>
<circle cx="570.70" cy="332.85" r="1.05" fill="none" stroke="#111" stroke-width="0.65"/>
<line x1="577.20" y1="338.95" x2="577.20" y2="337.93" stroke="#111" stroke-width="0.85" />
<line x1="576.00" y1="337.93" x2="578.40" y2="337.93" stroke="#111" stroke-width="0.85" />
<circle cx="576.40" cy="338.75" r="1.05" fill="none" stroke="#111" stroke-width="0.65"/>
<circle cx="578.00" cy="339.15" r="1.05" fill="none" stroke="#111" stroke-width="0.65"/>
<circle cx="577.20" cy="338.05" r="1.05" fill="none" stroke="#111" stroke-width="0.65"/>
<line x1="583.80" y1="319.30" x2="583.80" y2="316.12" stroke="#111" stroke-width="0.85" />
<line x1="582.60" y1="316.12" x2="585.00" y2="316.12" stroke="#111" stroke-width="0.85" />
<circle cx="583.80" cy="312.62" r="1.05" fill="#fff" stroke="#111" stroke-width="0.65"/>
<circle cx="584.10" cy="320.70" r="1.05" fill="#fff" stroke="#111" stroke-width="0.65"/>
<circle cx="583.60" cy="327.30" r="1.05" fill="#fff" stroke="#111" stroke-width="0.65"/>
<line x1="595.50" y1="341.55" x2="595.50" y2="340.55" stroke="#111" stroke-width="0.85" />
<line x1="594.30" y1="340.55" x2="596.70" y2="340.55" stroke="#111" stroke-width="0.85" />
<circle cx="594.70" cy="341.35" r="1.05" fill="none" stroke="#111" stroke-width="0.65"/>
<circle cx="596.30" cy="341.75" r="1.05" fill="none" stroke="#111" stroke-width="0.65"/>
<circle cx="595.50" cy="340.65" r="1.05" fill="none" stroke="#111" stroke-width="0.65"/>
<line x1="602.20" y1="332.88" x2="602.20" y2="331.20" stroke="#111" stroke-width="0.85" />
<line x1="601.00" y1="331.20" x2="603.40" y2="331.20" stroke="#111" stroke-width="0.85" />
<circle cx="601.40" cy="332.68" r="1.05" fill="none" stroke="#111" stroke-width="0.65"/>
<circle cx="603.00" cy="333.08" r="1.05" fill="none" stroke="#111" stroke-width="0.65"/>
<circle cx="602.20" cy="331.98" r="1.05" fill="none" stroke="#111" stroke-width="0.65"/>
<line x1="608.70" y1="341.26" x2="608.70" y2="340.26" stroke="#111" stroke-width="0.85" />
<line x1="607.50" y1="340.26" x2="609.90" y2="340.26" stroke="#111" stroke-width="0.85" />
<circle cx="607.90" cy="341.06" r="1.05" fill="none" stroke="#111" stroke-width="0.65"/>
<circle cx="609.50" cy="341.46" r="1.05" fill="none" stroke="#111" stroke-width="0.65"/>
<circle cx="608.70" cy="340.36" r="1.05" fill="none" stroke="#111" stroke-width="0.65"/>
<line x1="615.30" y1="312.36" x2="615.30" y2="308.42" stroke="#111" stroke-width="0.85" />
<line x1="614.10" y1="308.42" x2="616.50" y2="308.42" stroke="#111" stroke-width="0.85" />
<circle cx="615.30" cy="304.92" r="1.05" fill="#fff" stroke="#111" stroke-width="0.65"/>
<circle cx="615.60" cy="313.76" r="1.05" fill="#fff" stroke="#111" stroke-width="0.65"/>
<circle cx="615.10" cy="320.36" r="1.05" fill="#fff" stroke="#111" stroke-width="0.65"/>
<line x1="627.00" y1="342.19" x2="627.00" y2="341.19" stroke="#111" stroke-width="0.85" />
<line x1="625.80" y1="341.19" x2="628.20" y2="341.19" stroke="#111" stroke-width="0.85" />
<circle cx="626.20" cy="341.99" r="1.05" fill="none" stroke="#111" stroke-width="0.65"/>
<circle cx="627.80" cy="342.39" r="1.05" fill="none" stroke="#111" stroke-width="0.65"/>
<circle cx="627.00" cy="341.29" r="1.05" fill="none" stroke="#111" stroke-width="0.65"/>
<line x1="633.70" y1="317.85" x2="633.70" y2="314.52" stroke="#111" stroke-width="0.85" />
<line x1="632.50" y1="314.52" x2="634.90" y2="314.52" stroke="#111" stroke-width="0.85" />
<circle cx="633.70" cy="311.02" r="1.05" fill="#fff" stroke="#111" stroke-width="0.65"/>
<circle cx="634.00" cy="319.25" r="1.05" fill="#fff" stroke="#111" stroke-width="0.65"/>
<circle cx="633.50" cy="325.85" r="1.05" fill="#fff" stroke="#111" stroke-width="0.65"/>
<line x1="640.20" y1="337.39" x2="640.20" y2="336.20" stroke="#111" stroke-width="0.85" />
<line x1="639.00" y1="336.20" x2="641.40" y2="336.20" stroke="#111" stroke-width="0.85" />
<circle cx="639.40" cy="337.19" r="1.05" fill="none" stroke="#111" stroke-width="0.65"/>
<circle cx="641.00" cy="337.59" r="1.05" fill="none" stroke="#111" stroke-width="0.65"/>
<circle cx="640.20" cy="336.49" r="1.05" fill="none" stroke="#111" stroke-width="0.65"/>
<line x1="646.80" y1="269.59" x2="646.80" y2="264.09" stroke="#111" stroke-width="0.85" />
<line x1="645.60" y1="264.09" x2="648.00" y2="264.09" stroke="#111" stroke-width="0.85" />
<circle cx="646.80" cy="260.59" r="1.05" fill="#fff" stroke="#111" stroke-width="0.65"/>
<circle cx="647.10" cy="270.99" r="1.05" fill="#fff" stroke="#111" stroke-width="0.65"/>
<circle cx="646.60" cy="277.59" r="1.05" fill="#fff" stroke="#111" stroke-width="0.65"/>
<line x1="658.50" y1="342.02" x2="658.50" y2="341.02" stroke="#111" stroke-width="0.85" />
<line x1="657.30" y1="341.02" x2="659.70" y2="341.02" stroke="#111" stroke-width="0.85" />
<circle cx="657.70" cy="341.82" r="1.05" fill="none" stroke="#111" stroke-width="0.65"/>
<circle cx="659.30" cy="342.22" r="1.05" fill="none" stroke="#111" stroke-width="0.65"/>
<circle cx="658.50" cy="341.12" r="1.05" fill="none" stroke="#111" stroke-width="0.65"/>
<line x1="665.20" y1="304.85" x2="665.20" y2="300.08" stroke="#111" stroke-width="0.85" />
<line x1="664.00" y1="300.08" x2="666.40" y2="300.08" stroke="#111" stroke-width="0.85" />
<circle cx="665.20" cy="296.58" r="1.05" fill="#fff" stroke="#111" stroke-width="0.65"/>
<circle cx="665.50" cy="306.25" r="1.05" fill="#fff" stroke="#111" stroke-width="0.65"/>
<circle cx="665.00" cy="312.85" r="1.05" fill="#fff" stroke="#111" stroke-width="0.65"/>
<line x1="671.70" y1="333.75" x2="671.70" y2="332.16" stroke="#111" stroke-width="0.85" />
<line x1="670.50" y1="332.16" x2="672.90" y2="332.16" stroke="#111" stroke-width="0.85" />
<circle cx="670.90" cy="333.55" r="1.05" fill="none" stroke="#111" stroke-width="0.65"/>
<circle cx="672.50" cy="333.95" r="1.05" fill="none" stroke="#111" stroke-width="0.65"/>
<circle cx="671.70" cy="332.85" r="1.05" fill="none" stroke="#111" stroke-width="0.65"/>
<line x1="678.30" y1="282.31" x2="678.30" y2="276.81" stroke="#111" stroke-width="0.85" />
<line x1="677.10" y1="276.81" x2="679.50" y2="276.81" stroke="#111" stroke-width="0.85" />
<circle cx="678.30" cy="273.31" r="1.05" fill="#fff" stroke="#111" stroke-width="0.65"/>
<circle cx="678.60" cy="283.71" r="1.05" fill="#fff" stroke="#111" stroke-width="0.65"/>
<circle cx="678.10" cy="290.31" r="1.05" fill="#fff" stroke="#111" stroke-width="0.65"/>
<polyline points="469.20,338.60 469.20,336.00 475.70,336.00 475.70,338.60" fill="none" stroke="#231f20" stroke-width="0.95" />
<polygon points="473.05,329.91 473.54,330.98 474.71,331.12 473.85,331.92 474.08,333.08 473.05,332.50 472.02,333.08 472.25,331.92 471.39,331.12 472.56,330.98" fill="#231f20"/>
<polyline points="482.40,336.80 482.40,334.20 490.20,334.20 490.20,336.80" fill="none" stroke="#231f20" stroke-width="0.95" />
<polygon points="481.05,328.11 481.54,329.18 482.71,329.32 481.85,330.12 482.08,331.28 481.05,330.70 480.02,331.28 480.25,330.12 479.39,329.32 480.56,329.18" fill="#231f20"/>
<polygon points="484.95,328.11 485.44,329.18 486.61,329.32 485.75,330.12 485.98,331.28 484.95,330.70 483.92,331.28 484.15,330.12 483.29,329.32 484.46,329.18" fill="#231f20"/>
<polygon points="488.85,328.11 489.34,329.18 490.51,329.32 489.65,330.12 489.88,331.28 488.85,330.70 487.82,331.28 488.05,330.12 487.19,329.32 488.36,329.18" fill="#231f20"/>
<polygon points="492.75,328.11 493.24,329.18 494.41,329.32 493.55,330.12 493.78,331.28 492.75,330.70 491.72,331.28 491.95,330.12 491.09,329.32 492.26,329.18" fill="#231f20"/>
<polyline points="475.20,325.00 475.20,322.40 490.20,322.40 490.20,325.00" fill="none" stroke="#231f20" stroke-width="0.95" />
<polygon points="483.30,315.91 483.79,316.98 484.96,317.12 484.10,317.92 484.33,319.08 483.30,318.50 482.27,319.08 482.50,317.92 481.64,317.12 482.81,316.98" fill="#231f20"/>
<polyline points="501.40,331.00 501.40,328.40 507.70,328.40 507.70,331.00" fill="none" stroke="#231f20" stroke-width="0.95" />
<polygon points="503.20,323.31 503.69,324.38 504.86,324.52 504.00,325.32 504.23,326.48 503.20,325.90 502.17,326.48 502.40,325.32 501.54,324.52 502.71,324.38" fill="#231f20"/>
<polygon points="507.10,323.31 507.59,324.38 508.76,324.52 507.90,325.32 508.13,326.48 507.10,325.90 506.07,326.48 506.30,325.32 505.44,324.52 506.61,324.38" fill="#231f20"/>
<polyline points="507.70,319.60 507.70,317.00 522.10,317.00 522.10,319.60" fill="none" stroke="#231f20" stroke-width="0.95" />
<polygon points="515.50,311.01 515.99,312.08 517.16,312.22 516.30,313.02 516.53,314.18 515.50,313.60 514.47,314.18 514.70,313.02 513.84,312.22 515.01,312.08" fill="#231f20"/>
<polyline points="514.40,335.50 514.40,332.90 521.60,332.90 521.60,335.50" fill="none" stroke="#231f20" stroke-width="0.95" />
<polygon points="516.65,326.91 517.14,327.98 518.31,328.12 517.45,328.92 517.68,330.08 516.65,329.50 515.62,330.08 515.85,328.92 514.99,328.12 516.16,327.98" fill="#231f20"/>
<polygon points="520.55,326.91 521.04,327.98 522.21,328.12 521.35,328.92 521.58,330.08 520.55,329.50 519.52,330.08 519.75,328.92 518.89,328.12 520.06,327.98" fill="#231f20"/>
<polyline points="532.40,333.40 532.40,330.80 539.60,330.80 539.60,333.40" fill="none" stroke="#231f20" stroke-width="0.95" />
<polygon points="534.65,325.21 535.14,326.28 536.31,326.42 535.45,327.22 535.68,328.38 534.65,327.80 533.62,328.38 533.85,327.22 532.99,326.42 534.16,326.28" fill="#231f20"/>
<polygon points="538.55,325.21 539.04,326.28 540.21,326.42 539.35,327.22 539.58,328.38 538.55,327.80 537.52,328.38 537.75,327.22 536.89,326.42 538.06,326.28" fill="#231f20"/>
<polyline points="538.60,323.10 538.60,320.50 552.60,320.50 552.60,323.10" fill="none" stroke="#231f20" stroke-width="0.95" />
<polygon points="546.20,314.31 546.69,315.38 547.86,315.52 547.00,316.32 547.23,317.48 546.20,316.90 545.17,317.48 545.40,316.32 544.54,315.52 545.71,315.38" fill="#231f20"/>
<polyline points="545.40,340.00 545.40,337.40 552.60,337.40 552.60,340.00" fill="none" stroke="#231f20" stroke-width="0.95" />
<text x="549.50" y="335.90" font-size="9.2" fill="#231f20" stroke="#231f20" stroke-width="0.25" text-anchor="middle" font-weight="normal" font-style="normal" >ns</text>
<polyline points="563.30,330.30 563.30,327.70 570.10,327.70 570.10,330.30" fill="none" stroke="#231f20" stroke-width="0.95" />
<polygon points="565.35,321.71 565.84,322.78 567.01,322.92 566.15,323.72 566.38,324.88 565.35,324.30 564.32,324.88 564.55,323.72 563.69,322.92 564.86,322.78" fill="#231f20"/>
<polygon points="569.25,321.71 569.74,322.78 570.91,322.92 570.05,323.72 570.28,324.88 569.25,324.30 568.22,324.88 568.45,323.72 567.59,322.92 568.76,322.78" fill="#231f20"/>
<polyline points="570.10,302.10 570.10,299.50 584.50,299.50 584.50,302.10" fill="none" stroke="#231f20" stroke-width="0.95" />
<polygon points="575.95,293.21 576.44,294.28 577.61,294.42 576.75,295.22 576.98,296.38 575.95,295.80 574.92,296.38 575.15,295.22 574.29,294.42 575.46,294.28" fill="#231f20"/>
<polygon points="579.85,293.21 580.34,294.28 581.51,294.42 580.65,295.22 580.88,296.38 579.85,295.80 578.82,296.38 579.05,295.22 578.19,294.42 579.36,294.28" fill="#231f20"/>
<polyline points="576.30,311.80 576.30,309.20 584.50,309.20 584.50,311.80" fill="none" stroke="#231f20" stroke-width="0.95" />
<polygon points="579.05,303.51 579.54,304.58 580.71,304.72 579.85,305.52 580.08,306.68 579.05,306.10 578.02,306.68 578.25,305.52 577.39,304.72 578.56,304.58" fill="#231f20"/>
<polygon points="582.95,303.51 583.44,304.58 584.61,304.72 583.75,305.52 583.98,306.68 582.95,306.10 581.92,306.68 582.15,305.52 581.29,304.72 582.46,304.58" fill="#231f20"/>
<polyline points="595.30,327.90 595.30,325.30 601.40,325.30 601.40,327.90" fill="none" stroke="#231f20" stroke-width="0.95" />
<polygon points="597.00,320.01 597.49,321.08 598.66,321.22 597.80,322.02 598.03,323.18 597.00,322.60 595.97,323.18 596.20,322.02 595.34,321.22 596.51,321.08" fill="#231f20"/>
<polygon points="600.90,320.01 601.39,321.08 602.56,321.22 601.70,322.02 601.93,323.18 600.90,322.60 599.87,323.18 600.10,322.02 599.24,321.22 600.41,321.08" fill="#231f20"/>
<polyline points="601.00,291.20 601.00,288.60 615.90,288.60 615.90,291.20" fill="none" stroke="#231f20" stroke-width="0.95" />
<polygon points="609.05,282.51 609.54,283.58 610.71,283.72 609.85,284.52 610.08,285.68 609.05,285.10 608.02,285.68 608.25,284.52 607.39,283.72 608.56,283.58" fill="#231f20"/>
<polyline points="607.60,300.40 607.60,297.80 615.90,297.80 615.90,300.40" fill="none" stroke="#231f20" stroke-width="0.95" />
<polygon points="610.40,292.21 610.89,293.28 612.06,293.42 611.20,294.22 611.43,295.38 610.40,294.80 609.37,295.38 609.60,294.22 608.74,293.42 609.91,293.28" fill="#231f20"/>
<polygon points="614.30,292.21 614.79,293.28 615.96,293.42 615.10,294.22 615.33,295.38 614.30,294.80 613.27,295.38 613.50,294.22 612.64,293.42 613.81,293.28" fill="#231f20"/>
<polyline points="626.20,310.60 626.20,308.00 633.00,308.00 633.00,310.60" fill="none" stroke="#231f20" stroke-width="0.95" />
<polygon points="626.30,302.91 626.79,303.98 627.96,304.12 627.10,304.92 627.33,306.08 626.30,305.50 625.27,306.08 625.50,304.92 624.64,304.12 625.81,303.98" fill="#231f20"/>
<polygon points="630.20,302.91 630.69,303.98 631.86,304.12 631.00,304.92 631.23,306.08 630.20,305.50 629.17,306.08 629.40,304.92 628.54,304.12 629.71,303.98" fill="#231f20"/>
<polygon points="634.10,302.91 634.59,303.98 635.76,304.12 634.90,304.92 635.13,306.08 634.10,305.50 633.07,306.08 633.30,304.92 632.44,304.12 633.61,303.98" fill="#231f20"/>
<polyline points="632.30,244.70 632.30,242.10 646.70,242.10 646.70,244.70" fill="none" stroke="#231f20" stroke-width="0.95" />
<polygon points="638.15,236.21 638.64,237.28 639.81,237.42 638.95,238.22 639.18,239.38 638.15,238.80 637.12,239.38 637.35,238.22 636.49,237.42 637.66,237.28" fill="#231f20"/>
<polygon points="642.05,236.21 642.54,237.28 643.71,237.42 642.85,238.22 643.08,239.38 642.05,238.80 641.02,239.38 641.25,238.22 640.39,237.42 641.56,237.28" fill="#231f20"/>
<polyline points="638.60,254.50 638.60,251.90 646.70,251.90 646.70,254.50" fill="none" stroke="#231f20" stroke-width="0.95" />
<polygon points="639.35,247.01 639.84,248.08 641.01,248.22 640.15,249.02 640.38,250.18 639.35,249.60 638.32,250.18 638.55,249.02 637.69,248.22 638.86,248.08" fill="#231f20"/>
<polygon points="643.25,247.01 643.74,248.08 644.91,248.22 644.05,249.02 644.28,250.18 643.25,249.60 642.22,250.18 642.45,249.02 641.59,248.22 642.76,248.08" fill="#231f20"/>
<polygon points="647.15,247.01 647.64,248.08 648.81,248.22 647.95,249.02 648.18,250.18 647.15,249.60 646.12,250.18 646.35,249.02 645.49,248.22 646.66,248.08" fill="#231f20"/>
<polyline points="658.30,295.20 658.30,292.60 664.60,292.60 664.60,295.20" fill="none" stroke="#231f20" stroke-width="0.95" />
<polygon points="658.15,286.61 658.64,287.68 659.81,287.82 658.95,288.62 659.18,289.78 658.15,289.20 657.12,289.78 657.35,288.62 656.49,287.82 657.66,287.68" fill="#231f20"/>
<polygon points="662.05,286.61 662.54,287.68 663.71,287.82 662.85,288.62 663.08,289.78 662.05,289.20 661.02,289.78 661.25,288.62 660.39,287.82 661.56,287.68" fill="#231f20"/>
<polygon points="665.95,286.61 666.44,287.68 667.61,287.82 666.75,288.62 666.98,289.78 665.95,289.20 664.92,289.78 665.15,288.62 664.29,287.82 665.46,287.68" fill="#231f20"/>
<polyline points="664.50,264.70 664.50,262.10 678.70,262.10 678.70,264.70" fill="none" stroke="#231f20" stroke-width="0.95" />
<polygon points="670.25,256.61 670.74,257.68 671.91,257.82 671.05,258.62 671.28,259.78 670.25,259.20 669.22,259.78 669.45,258.62 668.59,257.82 669.76,257.68" fill="#231f20"/>
<polygon points="674.15,256.61 674.64,257.68 675.81,257.82 674.95,258.62 675.18,259.78 674.15,259.20 673.12,259.78 673.35,258.62 672.49,257.82 673.66,257.68" fill="#231f20"/>
<polyline points="670.30,274.30 670.30,271.70 678.40,271.70 678.40,274.30" fill="none" stroke="#231f20" stroke-width="0.95" />
<polygon points="671.05,266.41 671.54,267.48 672.71,267.62 671.85,268.42 672.08,269.58 671.05,269.00 670.02,269.58 670.25,268.42 669.39,267.62 670.56,267.48" fill="#231f20"/>
<polygon points="674.95,266.41 675.44,267.48 676.61,267.62 675.75,268.42 675.98,269.58 674.95,269.00 673.92,269.58 674.15,268.42 673.29,267.62 674.46,267.48" fill="#231f20"/>
<polygon points="678.85,266.41 679.34,267.48 680.51,267.62 679.65,268.42 679.88,269.58 678.85,269.00 677.82,269.58 678.05,268.42 677.19,267.62 678.36,267.48" fill="#231f20"/>
<text x="0" y="0" font-size="9.9" fill="#231f20" stroke="#231f20" stroke-width="0.25" text-anchor="end" transform="translate(484.80 362.50) matrix(0.7071 -0.7071 0.5299 0.8480 0 0)">CASPS 7</text>
<text x="0" y="0" font-size="9.9" fill="#231f20" stroke="#231f20" stroke-width="0.25" text-anchor="end" transform="translate(517.60 363.30) matrix(0.7071 -0.7071 0.5299 0.8480 0 0)">CASPS 5</text>
<text x="0" y="0" font-size="9.9" fill="#231f20" stroke="#231f20" stroke-width="0.25" text-anchor="end" transform="translate(551.00 361.70) matrix(0.7071 -0.7071 0.5299 0.8480 0 0)">CASPS 6</text>
<text x="0" y="0" font-size="9.9" fill="#231f20" stroke="#231f20" stroke-width="0.25" text-anchor="end" transform="translate(584.20 361.70) matrix(0.7071 -0.7071 0.5299 0.8480 0 0)">CASPS 8</text>
<text x="0" y="0" font-size="9.9" fill="#231f20" stroke="#231f20" stroke-width="0.25" text-anchor="end" transform="translate(616.60 362.50) matrix(0.7071 -0.7071 0.5299 0.8480 0 0)">CASPL 2</text>
<text x="0" y="0" font-size="9.9" fill="#231f20" stroke="#231f20" stroke-width="0.25" text-anchor="end" transform="translate(642.20 361.50) matrix(0.7071 -0.7071 0.5299 0.8480 0 0)">IAP1</text>
<text x="0" y="0" font-size="9.9" fill="#231f20" stroke="#231f20" stroke-width="0.25" text-anchor="end" transform="translate(673.80 361.70) matrix(0.7071 -0.7071 0.5299 0.8480 0 0)">Ark</text>
<text x="0" y="0" font-size="9.8" fill="#231f20" stroke="#231f20" stroke-width="0.25" text-anchor="middle" transform="translate(436.10 293.90) rotate(-90)" dy="3.53">Relative expression/<tspan font-style="italic">S7</tspan></text>
</svg>
</body></html>
